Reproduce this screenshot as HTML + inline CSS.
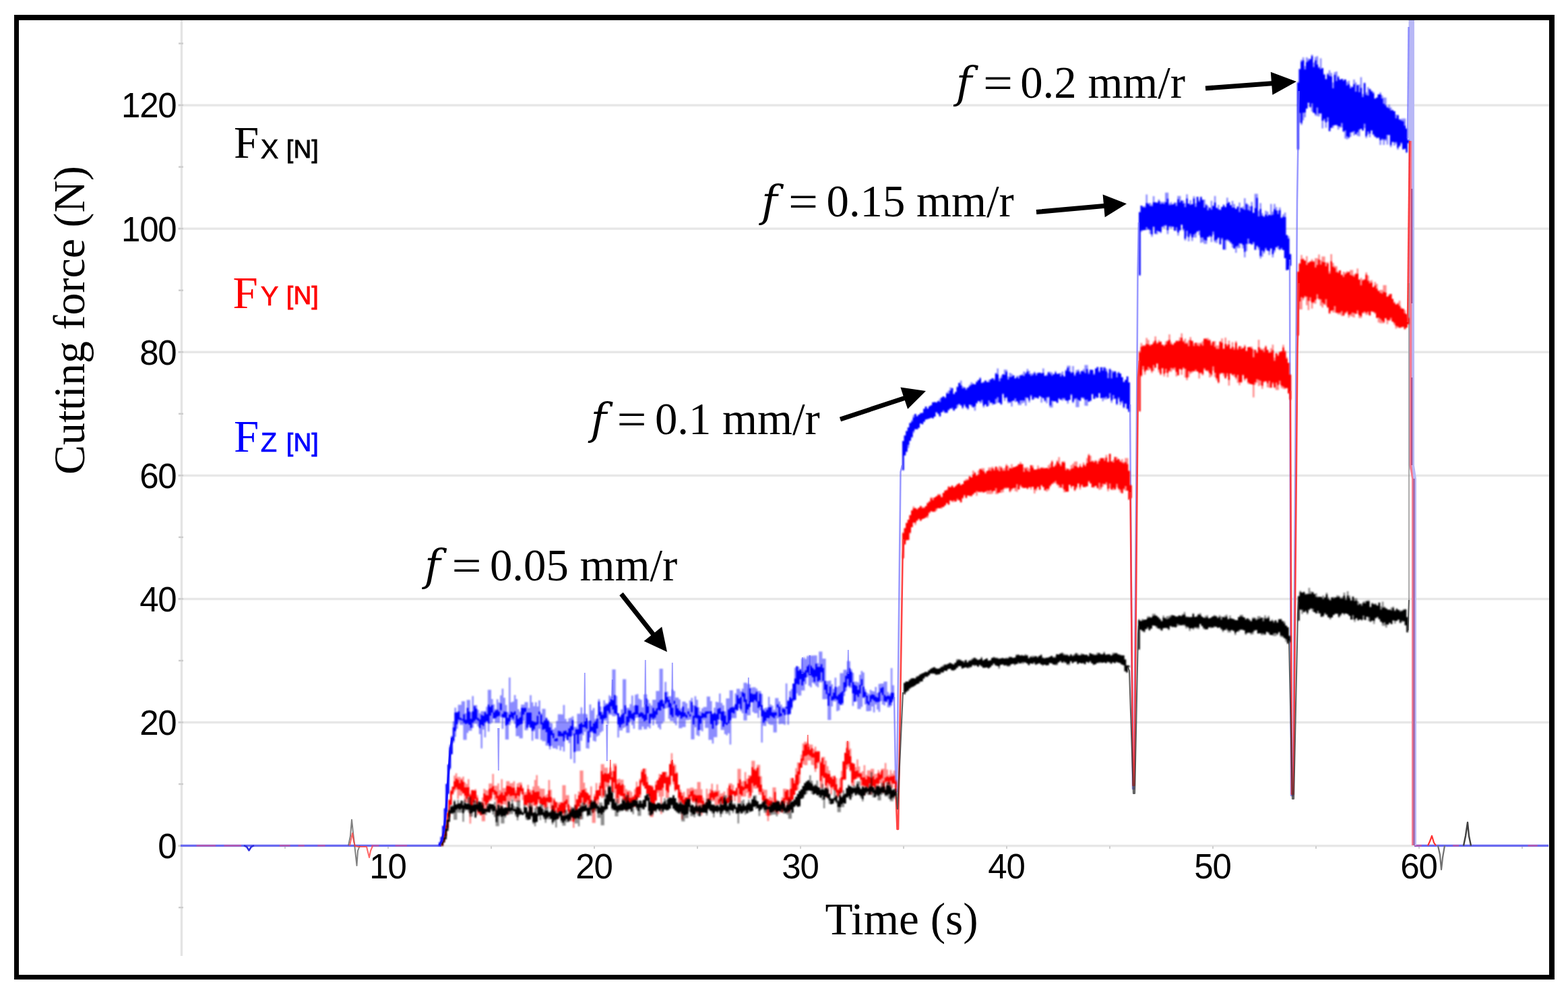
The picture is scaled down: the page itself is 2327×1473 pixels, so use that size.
<!DOCTYPE html>
<html><head><meta charset="utf-8"><title>Cutting force vs time</title><style>
html,body{margin:0;padding:0;background:#fff;width:2327px;height:1473px;overflow:hidden}
svg{display:block}
.tk{font-family:"Liberation Sans",Arial,sans-serif;font-size:51px;letter-spacing:-1.3px;fill:#000}
.ttl{font-family:"Liberation Serif","Times New Roman",serif;font-size:66px;fill:#000}
.tx{font-size:67.2px}
.lgF{font-family:"Liberation Serif","Times New Roman",serif;font-size:67px}
.lgS{font-family:"Liberation Sans",Arial,sans-serif;font-size:40px;stroke:currentColor;stroke-width:0.6px}
.lgN{font-family:"Liberation Sans",Arial,sans-serif;font-size:36.5px;stroke:currentColor;stroke-width:1px;letter-spacing:0.5px}
.an{font-family:"Liberation Serif","Times New Roman",serif;font-size:66.8px;fill:#000}
.af{font-family:"DejaVu Serif",serif;font-style:italic;font-size:64px;fill:#000}
</style></head>
<body><svg width="2327" height="1473" viewBox="0 0 2327 1473">
<defs><filter id="bl" x="-2%" y="-2%" width="104%" height="104%"><feGaussianBlur stdDeviation="0.8"/></filter></defs>
<rect width="2327" height="1473" fill="#fff"/>
<rect x="264" y="1253.0" width="2035" height="3.4" fill="#e7e7e7"/>
<rect x="264" y="1069.9" width="2035" height="3.4" fill="#e7e7e7"/>
<rect x="264" y="886.8" width="2035" height="3.4" fill="#e7e7e7"/>
<rect x="264" y="703.7" width="2035" height="3.4" fill="#e7e7e7"/>
<rect x="264" y="520.6" width="2035" height="3.4" fill="#e7e7e7"/>
<rect x="264" y="337.5" width="2035" height="3.4" fill="#e7e7e7"/>
<rect x="264" y="154.4" width="2035" height="3.4" fill="#e7e7e7"/>
<rect x="267.8" y="30" width="3.4" height="1388" fill="#e4e4e4"/>
<rect x="265" y="1345.0" width="7" height="2.4" fill="#cdcdcd"/>
<rect x="265" y="1253.4" width="7" height="2.4" fill="#cdcdcd"/>
<rect x="265" y="1161.9" width="7" height="2.4" fill="#cdcdcd"/>
<rect x="265" y="1070.3" width="7" height="2.4" fill="#cdcdcd"/>
<rect x="265" y="978.8" width="7" height="2.4" fill="#cdcdcd"/>
<rect x="265" y="887.2" width="7" height="2.4" fill="#cdcdcd"/>
<rect x="265" y="795.7" width="7" height="2.4" fill="#cdcdcd"/>
<rect x="265" y="704.1" width="7" height="2.4" fill="#cdcdcd"/>
<rect x="265" y="612.6" width="7" height="2.4" fill="#cdcdcd"/>
<rect x="265" y="521.0" width="7" height="2.4" fill="#cdcdcd"/>
<rect x="265" y="429.5" width="7" height="2.4" fill="#cdcdcd"/>
<rect x="265" y="337.9" width="7" height="2.4" fill="#cdcdcd"/>
<rect x="265" y="246.4" width="7" height="2.4" fill="#cdcdcd"/>
<rect x="265" y="154.8" width="7" height="2.4" fill="#cdcdcd"/>
<rect x="265" y="63.3" width="7" height="2.4" fill="#cdcdcd"/>
<rect x="422.0" y="1255" width="2" height="4" fill="#cfcfcf"/>
<rect x="575.0" y="1255" width="2" height="4" fill="#cfcfcf"/>
<rect x="728.0" y="1255" width="2" height="4" fill="#cfcfcf"/>
<rect x="881.0" y="1255" width="2" height="4" fill="#cfcfcf"/>
<rect x="1034.0" y="1255" width="2" height="4" fill="#cfcfcf"/>
<rect x="1187.0" y="1255" width="2" height="4" fill="#cfcfcf"/>
<rect x="1340.0" y="1255" width="2" height="4" fill="#cfcfcf"/>
<rect x="1493.0" y="1255" width="2" height="4" fill="#cfcfcf"/>
<rect x="1646.0" y="1255" width="2" height="4" fill="#cfcfcf"/>
<rect x="1799.0" y="1255" width="2" height="4" fill="#cfcfcf"/>
<rect x="1952.0" y="1255" width="2" height="4" fill="#cfcfcf"/>
<rect x="2105.0" y="1255" width="2" height="4" fill="#cfcfcf"/>
<rect x="2258.0" y="1255" width="2" height="4" fill="#cfcfcf"/>
<text x="261.3" y="1273.0" text-anchor="end" class="tk">0</text>
<text x="261.3" y="1089.9" text-anchor="end" class="tk">20</text>
<text x="261.3" y="906.8" text-anchor="end" class="tk">40</text>
<text x="261.3" y="723.7" text-anchor="end" class="tk">60</text>
<text x="261.3" y="540.6" text-anchor="end" class="tk">80</text>
<text x="261.3" y="357.5" text-anchor="end" class="tk">100</text>
<text x="261.3" y="174.4" text-anchor="end" class="tk">120</text>
<text x="575.4" y="1303" text-anchor="middle" class="tk">10</text>
<text x="881.4" y="1303" text-anchor="middle" class="tk">20</text>
<text x="1187.4" y="1303" text-anchor="middle" class="tk">30</text>
<text x="1493.4" y="1303" text-anchor="middle" class="tk">40</text>
<text x="1799.4" y="1303" text-anchor="middle" class="tk">50</text>
<text x="2105.4" y="1303" text-anchor="middle" class="tk">60</text>
<rect x="268" y="1252.8" width="387" height="3.3" fill="#6a6af0"/>
<path d="M291.5 1254.4H320.1M332.5 1254.4H358.0M414.9 1254.4H430.7M442.5 1254.4H451.8M471.3 1254.4H482.6M551.1 1254.4H562.3M586.6 1254.4H604.1" stroke="#e0508a" stroke-width="2.2" fill="none" opacity="0.7"/>
<rect x="2099" y="1252.8" width="199" height="3.3" fill="#6a6af0"/>
<path d="M2099.0 1254.4H2109.8M2156.1 1254.4H2165.0M2267.5 1254.4H2281.7" stroke="#e0508a" stroke-width="2.2" fill="none" opacity="0.7"/>
<path d="M362.0 1254.4L366.0 1256.0L369.5 1261.5L373.0 1256.0L377.0 1254.4" stroke="#3030e0" stroke-width="2.5" fill="none" stroke-linejoin="round" opacity="1"/>
<path d="M2090.5 30H2099V690L2102 710V1254H2097V710L2090.5 690Z" fill="#b8b8f6"/>
<path d="M2091.5 209H2095.3V690L2097.6 710V1254H2095V710L2091.5 690Z" fill="#f27c92"/>
<path d="M2095.3 280V450M2095.3 560V690M2098.5 710V1254" stroke="#8a2a70" stroke-width="1.8" opacity="0.75"/>
<path d="M2091 420V890" stroke="#9a9a9a" stroke-width="1.6"/>
<g filter="url(#bl)"><path d="M652.3 1249.6V1254.4M654.9 1241.5V1250.5M657.5 1225.0V1244.5M660.1 1199.2V1230.4M662.7 1162.8V1204.6M665.3 1134.1V1177.5M667.9 1104.6V1141.7M670.5 1091.6V1118.7M673.1 1070.0V1102.1M675.7 1049.8V1093.0M678.3 1055.7V1081.3M680.9 1045.6V1070.7M683.5 1045.6V1075.2M686.1 1040.3V1075.2M688.7 1040.3V1097.6M691.3 1057.9V1097.6M693.9 1038.2V1087.3M696.5 1038.2V1083.9M699.1 1056.5V1083.9M701.7 1032.6V1079.7M704.3 1046.1V1073.3M706.9 1046.1V1073.8M709.5 1052.9V1077.5M712.1 1058.0V1089.1M714.7 1055.0V1110.3M717.3 1055.0V1082.2M719.9 1054.8V1093.8M722.5 1048.4V1071.0M725.1 1023.3V1085.2M727.7 1023.3V1073.8M730.3 1036.9V1072.1M732.9 1044.7V1065.8M735.5 1052.0V1072.3M738.1 1037.3V1072.3M740.7 1042.0V1072.3M743.3 1031.5V1063.7M745.9 1021.5V1081.2M748.5 1035.0V1064.5M751.1 1045.7V1096.9M753.7 1056.5V1096.9M756.3 1005.0V1075.4M758.9 1041.8V1067.8M761.5 1040.7V1069.7M764.1 1030.9V1074.0M766.7 1037.0V1091.9M769.3 1052.0V1091.9M771.9 1055.7V1095.2M774.5 1045.2V1095.2M777.1 1045.2V1069.4M779.7 1041.4V1083.3M782.3 1041.4V1083.3M784.9 1050.3V1078.6M787.5 1031.2V1080.3M790.1 1041.8V1098.7M792.7 1047.5V1084.4M795.3 1041.8V1096.1M797.9 1047.9V1096.6M800.5 1038.9V1081.0M803.1 1058.1V1097.4M805.7 1051.6V1099.6M808.3 1051.6V1099.6M810.9 1064.2V1105.9M813.5 1067.4V1106.3M816.1 1071.5V1111.6M818.7 1072.8V1106.6M821.3 1082.0V1110.0M823.9 1079.6V1110.0M826.5 1069.6V1111.5M829.1 1059.6V1106.3M831.7 1059.6V1113.3M834.3 1059.7V1107.8M836.9 1045.7V1114.8M839.5 1066.6V1094.8M842.1 1071.0V1098.0M844.7 1065.5V1102.3M847.3 1064.5V1125.9M849.9 1062.5V1091.1M852.5 1078.2V1131.9M855.1 1078.2V1114.8M857.7 1058.7V1114.3M860.3 1058.7V1114.3M862.9 1049.2V1098.8M865.5 1058.8V1090.6M868.1 1058.8V1085.4M870.7 1059.5V1109.9M873.3 1069.2V1110.6M875.9 1045.1V1093.9M878.5 1053.7V1086.5M881.1 1050.2V1099.1M883.7 1066.6V1100.0M886.3 1060.5V1092.6M888.9 1037.0V1090.8M891.5 1048.0V1086.4M894.1 1056.2V1084.6M896.7 1038.8V1069.2M899.3 1043.3V1069.2M901.9 1043.3V1074.6M904.5 1031.4V1060.3M907.1 1033.2V1060.3M909.7 992.9V1062.4M912.3 992.9V1062.4M914.9 1032.3V1061.5M917.5 1057.9V1094.0M920.1 1062.1V1083.6M922.7 1052.3V1083.6M925.3 1007.5V1080.0M927.9 1007.5V1078.6M930.5 1050.0V1086.9M933.1 1050.0V1086.9M935.7 1044.4V1070.3M938.3 1031.7V1075.6M940.9 1046.7V1080.9M943.5 1030.4V1065.0M946.1 1029.6V1064.3M948.7 1036.5V1082.6M951.3 1038.1V1082.6M953.9 1049.3V1077.7M956.5 1030.1V1081.8M959.1 1030.1V1081.8M961.7 1038.0V1078.1M964.3 1043.2V1080.6M966.9 1046.6V1068.0M969.5 1038.0V1075.8M972.1 1038.0V1068.2M974.7 1024.9V1074.2M977.3 1024.9V1079.3M979.9 991.9V1082.0M982.5 991.9V1073.4M985.1 1039.2V1070.6M987.7 1011.6V1051.1M990.3 1025.9V1050.2M992.9 1033.1V1066.3M995.5 1032.8V1069.7M998.1 1022.7V1069.7M1000.7 1024.9V1072.4M1003.3 1034.7V1075.8M1005.9 1034.7V1064.5M1008.5 1037.5V1080.3M1011.1 1050.7V1080.3M1013.7 1040.8V1078.4M1016.3 1040.8V1078.4M1018.9 1043.2V1068.3M1021.5 1050.8V1068.3M1024.1 1038.9V1067.2M1026.7 1035.3V1096.7M1029.3 1046.0V1096.7M1031.9 1032.8V1078.7M1034.5 1038.1V1090.4M1037.1 1049.3V1091.9M1039.7 1055.3V1083.0M1042.3 1050.7V1084.7M1044.9 1048.7V1068.6M1047.5 1048.7V1079.8M1050.1 1033.3V1079.8M1052.7 1033.3V1097.5M1055.3 1040.1V1097.5M1057.9 1058.2V1103.0M1060.5 1049.8V1093.6M1063.1 1041.1V1093.6M1065.7 1041.7V1074.7M1068.3 1028.8V1067.5M1070.9 1042.8V1082.8M1073.5 1046.3V1082.8M1076.1 1055.2V1089.0M1078.7 1035.9V1090.8M1081.3 1035.9V1087.8M1083.9 1024.1V1104.6M1086.5 1024.1V1065.3M1089.1 1047.2V1065.3M1091.7 1028.4V1065.3M1094.3 1021.8V1054.6M1096.9 1021.8V1050.5M1099.5 1025.6V1055.0M1102.1 1021.5V1057.9M1104.7 1012.7V1068.7M1107.3 1012.7V1068.7M1109.9 1014.6V1061.1M1112.5 1015.1V1061.1M1115.1 1020.3V1041.7M1117.7 1019.5V1056.2M1120.3 1019.5V1057.9M1122.9 1021.4V1057.9M1125.5 1025.1V1064.7M1128.1 1025.1V1053.5M1130.7 1029.2V1101.4M1133.3 1051.3V1076.6M1135.9 1049.9V1076.9M1138.5 1049.6V1070.5M1141.1 1033.5V1073.9M1143.7 1044.9V1075.3M1146.3 1046.7V1075.3M1148.9 1053.1V1086.6M1151.5 1035.6V1086.6M1154.1 1035.6V1065.4M1156.7 1040.4V1074.2M1159.3 1045.3V1073.8M1161.9 1048.7V1073.8M1164.5 1048.7V1075.2M1167.1 1013.8V1060.3M1169.7 1038.5V1075.0M1172.3 1025.1V1060.0M1174.9 1022.0V1052.3M1177.5 1014.1V1040.9M1180.1 990.5V1038.4M1182.7 988.3V1028.5M1185.3 989.0V1031.7M1187.9 992.5V1031.7M1190.5 977.1V1024.2M1193.1 975.0V1024.2M1195.7 977.5V1014.8M1198.3 973.3V1004.4M1200.9 972.3V1017.3M1203.5 972.5V1019.6M1206.1 972.5V1012.4M1208.7 972.2V1014.6M1211.3 972.2V1017.5M1213.9 983.8V1019.6M1216.5 966.6V1012.3M1219.1 966.6V1012.3M1221.7 977.1V1037.3M1224.3 977.1V1037.3M1226.9 1010.3V1037.1M1229.5 1010.3V1067.9M1232.1 1009.4V1067.9M1234.7 1015.1V1047.9M1237.3 1022.0V1040.5M1239.9 1005.3V1040.5M1242.5 1019.3V1055.0M1245.1 1017.4V1053.7M1247.7 998.6V1045.5M1250.3 998.6V1046.1M1252.9 993.4V1032.6M1255.5 993.4V1024.9M1258.1 980.4V1017.6M1260.7 980.7V1020.2M1263.3 992.7V1020.2M1265.9 998.1V1047.3M1268.5 1011.3V1040.8M1271.1 1011.3V1040.5M1273.7 1012.3V1051.8M1276.3 1000.9V1051.8M1278.9 995.2V1048.6M1281.5 997.6V1035.6M1284.1 1022.3V1045.0M1286.7 1027.4V1055.1M1289.3 1029.2V1055.1M1291.9 1023.3V1054.6M1294.5 1025.1V1048.0M1297.1 1025.7V1056.7M1299.7 1018.9V1044.9M1302.3 1028.0V1052.4M1304.9 1014.4V1055.9M1307.5 1014.0V1039.9M1310.1 1014.0V1045.1M1312.7 1011.0V1046.5M1315.3 1011.0V1042.1M1317.9 1026.6V1049.3M1320.5 1029.4V1049.3M1323.1 991.0V1046.7M1325.7 1016.6V1039.9" stroke="#0000ff" stroke-width="2.6" opacity="0.45" fill="none"/>
<path d="M1340.3 654.2V697.4M1342.9 645.4V675.5M1345.5 639.4V670.8M1348.1 633.8V664.4M1350.7 627.6V654.0M1353.3 623.0V649.8M1355.9 615.8V642.2M1358.5 614.0V636.6M1361.1 617.6V636.7M1363.7 615.0V634.5M1366.3 612.5V628.5M1368.9 612.6V629.2M1371.5 606.4V625.5M1374.1 602.9V622.2M1376.7 606.2V621.6M1379.3 602.7V620.7M1381.9 601.2V619.8M1384.5 596.5V620.4M1387.1 596.0V617.9M1389.7 596.6V611.6M1392.3 594.7V614.5M1394.9 591.6V618.3M1397.5 589.3V611.5M1400.1 588.1V611.1M1402.7 589.1V613.0M1405.3 581.9V613.0M1407.9 579.6V609.0M1410.5 574.8V606.3M1413.1 575.7V607.0M1415.7 584.4V609.4M1418.3 581.6V606.7M1420.9 573.0V604.4M1423.5 567.9V600.6M1426.1 564.4V602.0M1428.7 573.1V606.4M1431.3 574.1V602.0M1433.9 575.8V605.4M1436.5 574.5V608.1M1439.1 570.8V600.8M1441.7 567.1V603.5M1444.3 568.5V604.7M1446.9 570.2V609.3M1449.5 565.6V598.9M1452.1 563.6V595.2M1454.7 559.7V598.4M1457.3 567.6V597.4M1459.9 565.9V604.6M1462.5 564.4V600.0M1465.1 566.2V603.0M1467.7 563.6V601.4M1470.3 562.5V598.1M1472.9 560.9V600.7M1475.5 561.4V599.6M1478.1 553.0V599.1M1480.7 546.4V597.2M1483.3 561.3V597.7M1485.9 557.4V600.5M1488.5 555.1V585.2M1491.1 548.2V594.7M1493.7 548.6V590.7M1496.3 558.6V598.2M1498.9 553.0V597.8M1501.5 554.5V603.0M1504.1 556.8V594.2M1506.7 560.7V596.6M1509.3 557.5V595.9M1511.9 557.5V601.1M1514.5 555.9V601.1M1517.1 554.7V598.2M1519.7 550.9V597.3M1522.3 552.4V601.8M1524.9 547.2V590.8M1527.5 550.3V597.0M1530.1 553.9V588.3M1532.7 553.8V593.3M1535.3 551.2V592.1M1537.9 553.8V590.3M1540.5 552.4V591.8M1543.1 552.4V587.7M1545.7 553.1V597.2M1548.3 546.6V590.6M1550.9 556.9V595.9M1553.5 555.2V598.2M1556.1 551.6V589.9M1558.7 551.4V604.5M1561.3 552.4V604.5M1563.9 555.0V595.4M1566.5 550.4V595.4M1569.1 554.3V597.6M1571.7 553.5V592.1M1574.3 553.3V593.5M1576.9 550.9V594.5M1579.5 558.4V592.8M1582.1 548.2V594.6M1584.7 542.6V598.7M1587.3 542.6V593.4M1589.9 551.8V586.5M1592.5 542.9V598.0M1595.1 555.3V593.2M1597.7 549.0V603.9M1600.3 548.0V603.9M1602.9 551.9V594.6M1605.5 550.0V590.5M1608.1 547.6V591.7M1610.7 541.5V601.8M1613.3 541.5V601.9M1615.9 551.8V595.9M1618.5 548.6V595.3M1621.1 548.3V585.3M1623.7 553.7V591.9M1626.3 546.6V591.0M1628.9 544.5V590.0M1631.5 550.1V583.5M1634.1 544.4V590.6M1636.7 544.7V595.2M1639.3 544.3V592.5M1641.9 547.1V592.5M1644.5 553.3V591.5M1647.1 546.6V589.8M1649.7 549.6V597.5M1652.3 550.2V592.3M1654.9 550.6V592.3M1657.5 553.4V600.9M1660.1 551.3V592.3M1662.7 554.1V600.7M1665.3 559.2V598.0M1667.9 566.1V605.7M1670.5 563.5V599.3M1673.1 558.5V606.4M1675.7 566.9V610.9M1691.3 314.2V408.6M1693.9 304.9V344.1M1696.5 306.1V341.6M1699.1 305.5V341.6M1701.7 288.5V341.3M1704.3 301.1V340.4M1706.9 300.9V346.9M1709.5 303.3V351.3M1712.1 290.9V337.2M1714.7 299.8V347.4M1717.3 300.3V347.4M1719.9 295.7V343.2M1722.5 299.0V346.1M1725.1 299.5V337.3M1727.7 299.3V338.8M1730.3 285.8V335.4M1732.9 285.8V347.2M1735.5 301.5V337.6M1738.1 299.8V339.1M1740.7 302.7V336.9M1743.3 300.1V342.5M1745.9 300.6V342.5M1748.5 290.8V349.6M1751.1 290.8V342.4M1753.7 297.3V333.8M1756.3 297.4V342.5M1758.9 301.6V356.7M1761.5 288.2V350.4M1764.1 302.0V357.9M1766.7 297.1V349.6M1769.3 302.8V357.4M1771.9 291.1V352.1M1774.5 301.5V352.5M1777.1 291.7V343.6M1779.7 296.6V348.8M1782.3 291.6V360.3M1784.9 296.1V359.2M1787.5 296.1V361.7M1790.1 302.8V361.7M1792.7 305.2V351.7M1795.3 308.1V351.7M1797.9 297.7V358.9M1800.5 304.7V347.9M1803.1 290.8V359.4M1805.7 308.2V360.5M1808.3 304.1V353.5M1810.9 310.8V362.7M1813.5 306.9V355.6M1816.1 303.1V370.4M1818.7 306.6V370.4M1821.3 293.2V357.3M1823.9 299.8V358.7M1826.5 304.3V361.3M1829.1 298.0V367.3M1831.7 302.7V369.1M1834.3 309.4V374.9M1836.9 305.7V367.9M1839.5 300.6V367.9M1842.1 308.2V361.8M1844.7 306.6V368.4M1847.3 294.0V381.7M1849.9 301.3V372.4M1852.5 303.6V361.9M1855.1 306.0V361.2M1857.7 299.6V363.3M1860.3 315.7V362.0M1862.9 287.5V370.6M1865.5 287.5V366.3M1868.1 312.8V370.5M1870.7 301.3V383.6M1873.3 316.3V380.7M1875.9 320.5V376.1M1878.5 312.4V370.2M1881.1 314.1V371.9M1883.7 318.6V378.3M1886.3 302.4V368.8M1888.9 313.9V381.7M1891.5 302.5V374.3M1894.1 307.2V366.7M1896.7 312.4V369.5M1899.3 307.8V371.3M1901.9 322.6V370.0M1904.5 318.1V371.0M1907.1 315.3V383.1M1909.7 348.3V400.8M1912.3 350.3V399.9M1914.9 376.5V394.4M1926.3 122.4V221.8M1928.9 102.5V182.0M1931.5 88.8V185.2M1934.1 85.0V178.4M1936.7 98.1V173.9M1939.3 84.9V161.5M1941.9 86.9V152.9M1944.5 86.9V159.8M1947.1 80.9V165.6M1949.7 92.7V167.3M1952.3 84.5V171.5M1954.9 83.2V172.2M1957.5 99.1V172.8M1960.1 86.6V168.3M1962.7 101.0V190.5M1965.3 109.5V179.3M1967.9 117.6V189.6M1970.5 108.5V180.3M1973.1 104.3V194.6M1975.7 108.3V189.7M1978.3 122.2V189.7M1980.9 106.9V185.6M1983.5 105.9V186.5M1986.1 112.4V192.2M1988.7 117.9V189.5M1991.3 116.9V189.1M1993.9 117.7V195.8M1996.5 117.7V205.6M1999.1 121.5V206.8M2001.7 119.7V205.5M2004.3 127.5V203.0M2006.9 128.7V196.6M2009.5 117.9V200.9M2012.1 122.3V199.3M2014.7 125.8V201.4M2017.3 125.6V202.3M2019.9 114.5V191.0M2022.5 139.4V193.9M2025.1 122.4V190.1M2027.7 137.1V204.7M2030.3 129.3V199.4M2032.9 131.8V203.6M2035.5 134.2V193.6M2038.1 136.2V200.5M2040.7 146.3V203.4M2043.3 144.7V205.6M2045.9 139.9V205.0M2048.5 137.1V214.9M2051.1 141.4V208.1M2053.7 144.7V215.1M2056.3 144.8V209.1M2058.9 158.6V214.4M2061.5 155.3V200.2M2064.1 159.2V218.3M2066.7 163.4V210.9M2069.3 164.9V215.9M2071.9 170.0V213.8M2074.5 170.1V222.1M2077.1 176.8V218.1M2079.7 176.3V213.6M2082.3 175.8V221.7M2084.9 175.8V220.9M2087.5 190.6V226.3M2090.1 207.7V212.3" stroke="#0000ff" stroke-width="2.6" opacity="0.45" fill="none"/>
<path d="M652.3 1249.6V1254.4M654.9 1241.5V1250.5M657.5 1225.0V1244.5M660.1 1199.2V1230.4M662.7 1162.8V1204.6M665.3 1134.1V1177.5M667.9 1108.4V1139.5M670.5 1093.3V1118.7M673.1 1079.0V1098.9M675.7 1057.0V1084.4M678.3 1057.1V1074.2M680.9 1055.2V1067.2M683.5 1064.8V1068.1M686.1 1066.4V1068.8M688.7 1059.5V1072.2M691.3 1067.4V1074.1M693.9 1050.1V1073.1M696.5 1055.4V1074.9M699.1 1066.3V1079.7M701.7 1055.2V1072.0M704.3 1047.4V1069.5M706.9 1051.2V1066.9M709.5 1065.1V1069.3M712.1 1067.2V1080.0M714.7 1060.4V1075.0M717.3 1061.7V1076.8M719.9 1056.6V1071.7M722.5 1059.3V1069.8M725.1 1045.3V1073.0M727.7 1048.4V1061.6M730.3 1045.9V1056.9M732.9 1056.7V1065.7M735.5 1054.2V1065.2M738.1 1052.7V1063.0M740.7 1055.4V1061.7M743.3 1043.5V1053.5M745.9 1058.9V1063.9M748.5 1055.6V1064.5M751.1 1056.1V1076.3M753.7 1064.7V1074.4M756.3 1059.9V1070.5M758.9 1055.8V1063.9M761.5 1057.3V1066.5M764.1 1055.2V1060.4M766.7 1060.8V1079.7M769.3 1066.3V1076.7M771.9 1063.9V1074.8M774.5 1050.0V1073.8M777.1 1050.2V1060.1M779.7 1050.0V1056.1M782.3 1057.0V1079.7M784.9 1057.0V1074.7M787.5 1056.9V1078.9M790.1 1069.5V1084.2M792.7 1070.8V1081.5M795.3 1071.4V1076.3M797.9 1061.8V1074.6M800.5 1055.4V1059.7M803.1 1060.2V1074.6M805.7 1071.7V1082.5M808.3 1068.8V1081.6M810.9 1065.4V1085.9M813.5 1069.4V1102.4M816.1 1079.0V1106.8M818.7 1083.5V1090.5M821.3 1087.7V1095.1M823.9 1095.9V1099.5M826.5 1095.0V1099.4M829.1 1084.1V1092.2M831.7 1085.0V1092.3M834.3 1087.6V1092.2M836.9 1084.4V1099.6M839.5 1083.7V1089.8M842.1 1086.8V1097.7M844.7 1080.4V1092.5M847.3 1077.0V1092.4M849.9 1068.2V1083.1M852.5 1088.2V1115.6M855.1 1081.8V1089.4M857.7 1081.7V1103.5M860.3 1074.1V1089.3M862.9 1072.0V1087.8M865.5 1074.9V1078.4M868.1 1069.8V1079.1M870.7 1065.1V1081.3M873.3 1084.4V1101.3M875.9 1068.9V1085.7M878.5 1078.1V1084.2M881.1 1073.1V1087.2M883.7 1070.2V1088.3M886.3 1065.9V1080.7M888.9 1040.8V1061.5M891.5 1055.9V1066.8M894.1 1060.2V1073.4M896.7 1048.2V1066.1M899.3 1046.5V1065.0M901.9 1044.9V1054.5M904.5 1041.4V1057.8M907.1 1037.0V1047.8M909.7 1038.6V1052.5M912.3 1030.9V1058.3M914.9 1046.3V1059.6M917.5 1058.0V1074.5M920.1 1063.9V1079.1M922.7 1060.2V1074.6M925.3 1058.0V1073.0M927.9 1046.3V1058.9M930.5 1062.8V1076.2M933.1 1053.4V1071.4M935.7 1054.2V1065.4M938.3 1058.4V1066.7M940.9 1056.8V1069.2M943.5 1046.0V1060.1M946.1 1046.4V1059.8M948.7 1058.2V1063.9M951.3 1056.4V1062.9M953.9 1057.6V1065.8M956.5 1060.0V1069.9M959.1 1036.1V1067.9M961.7 1047.7V1058.0M964.3 1058.7V1072.9M966.9 1058.6V1064.3M969.5 1050.2V1066.5M972.1 1054.4V1064.6M974.7 1050.8V1060.2M977.3 1041.7V1053.2M979.9 1038.7V1053.9M982.5 1037.7V1047.9M985.1 1043.7V1051.1M987.7 1026.8V1043.7M990.3 1033.9V1041.6M992.9 1038.0V1049.2M995.5 1042.9V1060.5M998.1 1049.9V1063.8M1000.7 1039.4V1044.3M1003.3 1045.4V1061.1M1005.9 1050.7V1062.8M1008.5 1054.1V1061.0M1011.1 1056.1V1066.1M1013.7 1048.3V1063.4M1016.3 1056.9V1062.8M1018.9 1060.3V1064.9M1021.5 1055.3V1059.6M1024.1 1059.4V1063.0M1026.7 1041.3V1056.4M1029.3 1061.7V1074.5M1031.9 1047.3V1064.8M1034.5 1049.3V1065.5M1037.1 1060.8V1083.1M1039.7 1062.1V1073.3M1042.3 1057.5V1065.3M1044.9 1058.2V1064.2M1047.5 1055.4V1064.8M1050.1 1055.3V1059.0M1052.7 1055.5V1058.1M1055.3 1055.1V1074.1M1057.9 1059.3V1081.1M1060.5 1057.6V1069.0M1063.1 1059.3V1076.1M1065.7 1051.5V1067.2M1068.3 1050.3V1058.8M1070.9 1055.8V1069.3M1073.5 1055.1V1077.9M1076.1 1061.5V1073.8M1078.7 1072.1V1075.3M1081.3 1052.6V1073.0M1083.9 1050.1V1068.5M1086.5 1049.1V1057.1M1089.1 1049.8V1058.3M1091.7 1044.5V1052.6M1094.3 1031.2V1053.4M1096.9 1036.1V1044.3M1099.5 1034.0V1052.0M1102.1 1026.8V1033.4M1104.7 1028.4V1041.3M1107.3 1037.4V1058.1M1109.9 1044.3V1052.6M1112.5 1021.1V1048.7M1115.1 1028.6V1041.5M1117.7 1029.7V1041.4M1120.3 1029.6V1038.4M1122.9 1026.2V1040.8M1125.5 1040.3V1050.0M1128.1 1028.8V1048.1M1130.7 1046.0V1062.7M1133.3 1053.7V1072.0M1135.9 1056.0V1069.0M1138.5 1053.0V1064.9M1141.1 1049.2V1065.3M1143.7 1048.9V1061.8M1146.3 1056.8V1063.4M1148.9 1056.7V1065.3M1151.5 1056.4V1061.4M1154.1 1044.8V1049.4M1156.7 1048.4V1063.3M1159.3 1058.0V1062.2M1161.9 1051.2V1057.1M1164.5 1052.1V1060.8M1167.1 1048.5V1050.9M1169.7 1040.1V1060.1M1172.3 1034.3V1058.8M1174.9 1036.2V1049.3M1177.5 1014.1V1038.6M1180.1 1006.5V1038.2M1182.7 988.3V1014.5M1185.3 994.9V1015.5M1187.9 992.9V1007.5M1190.5 996.0V1016.7M1193.1 997.7V1010.8M1195.7 994.3V1004.9M1198.3 988.6V997.5M1200.9 986.0V1001.2M1203.5 987.8V1001.8M1206.1 990.7V1004.5M1208.7 993.2V1011.6M1211.3 984.6V1003.7M1213.9 989.2V1010.8M1216.5 989.3V1008.9M1219.1 985.2V997.3M1221.7 990.8V1010.0M1224.3 1010.0V1023.2M1226.9 1015.3V1029.5M1229.5 1028.6V1047.0M1232.1 1018.2V1032.5M1234.7 1032.7V1039.0M1237.3 1027.6V1037.7M1239.9 1018.8V1036.4M1242.5 1032.4V1038.2M1245.1 1030.1V1043.5M1247.7 1027.6V1045.5M1250.3 1025.4V1043.0M1252.9 1012.1V1026.5M1255.5 1002.5V1019.5M1258.1 997.5V1007.0M1260.7 991.0V1017.4M1263.3 996.5V1012.5M1265.9 1011.9V1028.6M1268.5 1015.9V1040.8M1271.1 1017.4V1030.5M1273.7 1023.2V1033.7M1276.3 1016.0V1028.8M1278.9 1007.4V1017.0M1281.5 1018.5V1034.5M1284.1 1026.3V1033.4M1286.7 1032.0V1043.6M1289.3 1040.4V1045.8M1291.9 1031.5V1041.2M1294.5 1029.9V1037.0M1297.1 1030.8V1039.3M1299.7 1033.4V1041.3M1302.3 1034.7V1041.5M1304.9 1026.8V1040.7M1307.5 1020.8V1027.4M1310.1 1019.3V1031.0M1312.7 1030.8V1040.3M1315.3 1033.0V1040.5M1317.9 1031.9V1037.6M1320.5 1032.7V1046.1M1323.1 1027.5V1042.0M1325.7 1027.7V1037.1M1340.3 654.2V697.4M1342.9 646.2V675.5M1345.5 639.4V669.8M1348.1 634.2V659.7M1350.7 627.6V653.8M1353.3 625.6V647.9M1355.9 619.4V639.5M1358.5 614.0V636.6M1361.1 617.6V636.7M1363.7 615.0V634.5M1366.3 613.2V628.0M1368.9 612.6V629.2M1371.5 606.4V625.5M1374.1 603.0V622.2M1376.7 606.2V621.6M1379.3 602.7V620.7M1381.9 601.2V619.4M1384.5 597.0V620.4M1387.1 596.8V617.9M1389.7 597.2V611.6M1392.3 595.1V613.4M1394.9 596.3V617.3M1397.5 590.1V611.5M1400.1 588.1V608.7M1402.7 590.6V611.5M1405.3 584.0V611.7M1407.9 583.9V607.8M1410.5 579.2V606.0M1413.1 575.8V604.8M1415.7 584.4V608.7M1418.3 581.6V606.1M1420.9 574.4V600.4M1423.5 568.1V599.1M1426.1 571.5V600.8M1428.7 576.2V604.5M1431.3 575.5V599.8M1433.9 578.2V603.4M1436.5 575.2V605.8M1439.1 573.1V600.0M1441.7 570.7V600.8M1444.3 569.9V603.7M1446.9 570.2V602.6M1449.5 566.9V597.4M1452.1 564.0V594.8M1454.7 561.5V595.6M1457.3 568.3V593.3M1459.9 567.4V601.8M1462.5 564.4V599.7M1465.1 566.9V603.0M1467.7 567.0V594.1M1470.3 563.0V596.8M1472.9 561.3V597.8M1475.5 563.9V599.6M1478.1 554.5V591.8M1480.7 555.5V589.3M1483.3 565.4V597.3M1485.9 560.9V599.4M1488.5 555.5V583.7M1491.1 556.1V590.1M1493.7 551.5V589.1M1496.3 562.9V595.6M1498.9 559.4V596.5M1501.5 559.1V595.1M1504.1 557.0V594.2M1506.7 561.6V591.0M1509.3 559.7V595.0M1511.9 561.6V597.9M1514.5 557.3V594.0M1517.1 557.1V593.7M1519.7 557.7V593.9M1522.3 554.6V589.5M1524.9 551.3V589.7M1527.5 555.1V593.8M1530.1 557.6V585.9M1532.7 556.5V592.5M1535.3 553.5V589.1M1537.9 557.0V589.8M1540.5 553.8V590.5M1543.1 553.0V587.5M1545.7 554.3V589.0M1548.3 553.2V590.4M1550.9 557.8V594.1M1553.5 557.4V589.5M1556.1 552.6V588.6M1558.7 554.8V601.4M1561.3 557.3V594.5M1563.9 555.2V595.1M1566.5 552.7V595.3M1569.1 555.0V597.6M1571.7 554.4V590.7M1574.3 558.6V592.7M1576.9 556.1V590.7M1579.5 558.6V590.4M1582.1 550.2V594.0M1584.7 545.4V594.6M1587.3 551.1V592.9M1589.9 553.6V584.8M1592.5 552.2V596.0M1595.1 557.4V591.1M1597.7 552.7V590.8M1600.3 550.7V593.1M1602.9 555.1V594.6M1605.5 550.6V589.6M1608.1 551.2V589.7M1610.7 553.4V593.1M1613.3 547.6V592.8M1615.9 554.7V595.8M1618.5 548.6V594.0M1621.1 548.9V584.3M1623.7 555.9V591.5M1626.3 546.8V588.2M1628.9 544.5V589.9M1631.5 552.2V583.0M1634.1 545.1V590.6M1636.7 549.7V590.1M1639.3 545.8V589.8M1641.9 550.7V588.4M1644.5 560.9V590.9M1647.1 547.9V583.3M1649.7 561.2V593.9M1652.3 552.6V586.0M1654.9 551.1V591.0M1657.5 559.8V598.9M1660.1 553.1V589.5M1662.7 554.3V595.9M1665.3 559.7V594.8M1667.9 567.0V603.9M1670.5 563.5V598.4M1673.1 558.5V606.4M1675.7 567.4V610.9M1691.3 315.1V408.6M1693.9 304.9V341.8M1696.5 307.5V341.4M1699.1 307.9V341.1M1701.7 301.2V336.9M1704.3 302.9V339.7M1706.9 305.6V341.3M1709.5 306.0V347.8M1712.1 299.9V336.1M1714.7 300.4V346.2M1717.3 301.1V342.1M1719.9 298.3V343.2M1722.5 302.6V344.1M1725.1 301.9V336.0M1727.7 302.5V334.4M1730.3 299.9V333.8M1732.9 294.7V341.5M1735.5 304.2V335.5M1738.1 303.8V335.8M1740.7 303.2V335.9M1743.3 301.7V342.0M1745.9 305.5V337.3M1748.5 295.6V345.0M1751.1 300.3V341.2M1753.7 297.8V333.0M1756.3 301.8V339.5M1758.9 307.3V354.0M1761.5 294.5V342.3M1764.1 302.1V351.7M1766.7 304.1V346.5M1769.3 303.1V352.3M1771.9 294.4V347.7M1774.5 306.7V345.7M1777.1 292.1V343.3M1779.7 299.2V341.9M1782.3 292.4V352.3M1784.9 296.8V352.2M1787.5 308.1V355.7M1790.1 304.6V356.8M1792.7 312.1V351.6M1795.3 308.3V349.6M1797.9 311.0V350.9M1800.5 305.7V343.6M1803.1 300.4V356.7M1805.7 308.5V355.2M1808.3 310.6V352.2M1810.9 311.6V362.2M1813.5 306.9V352.9M1816.1 304.7V369.9M1818.7 307.6V356.2M1821.3 302.1V355.1M1823.9 300.3V356.6M1826.5 304.6V359.3M1829.1 308.0V361.9M1831.7 308.0V368.4M1834.3 310.1V365.5M1836.9 307.1V364.4M1839.5 314.6V361.0M1842.1 308.2V361.0M1844.7 310.1V363.3M1847.3 311.3V373.6M1849.9 302.9V361.7M1852.5 311.5V354.1M1855.1 312.8V361.2M1857.7 305.8V362.2M1860.3 315.7V359.1M1862.9 308.7V370.6M1865.5 293.4V364.2M1868.1 321.0V366.8M1870.7 310.0V379.7M1873.3 320.0V371.4M1875.9 321.7V373.0M1878.5 318.3V367.7M1881.1 320.5V371.5M1883.7 318.8V372.6M1886.3 319.4V368.5M1888.9 318.6V377.1M1891.5 310.2V370.9M1894.1 312.3V366.7M1896.7 317.5V365.1M1899.3 311.7V369.8M1901.9 323.2V367.7M1904.5 321.5V371.0M1907.1 322.1V383.1M1909.7 349.0V400.8M1912.3 354.0V399.9M1914.9 377.3V393.9M1926.3 122.4V221.8M1928.9 102.5V167.5M1931.5 91.6V182.4M1934.1 89.4V167.3M1936.7 103.0V166.7M1939.3 92.2V160.8M1941.9 90.3V152.0M1944.5 88.3V158.4M1947.1 83.3V153.6M1949.7 99.6V167.2M1952.3 89.6V169.0M1954.9 95.8V159.5M1957.5 100.7V168.3M1960.1 102.7V168.3M1962.7 101.0V179.1M1965.3 110.9V176.2M1967.9 117.6V181.5M1970.5 110.5V174.1M1973.1 112.4V194.6M1975.7 113.6V189.6M1978.3 131.1V186.3M1980.9 110.9V185.5M1983.5 120.2V185.1M1986.1 114.6V187.0M1988.7 118.3V187.6M1991.3 116.9V182.5M1993.9 120.0V194.7M1996.5 118.0V193.4M1999.1 126.8V202.3M2001.7 124.8V203.4M2004.3 131.1V196.4M2006.9 129.3V195.4M2009.5 125.0V194.5M2012.1 136.0V198.9M2014.7 126.5V196.1M2017.3 136.7V192.2M2019.9 130.5V191.0M2022.5 143.9V193.6M2025.1 123.4V183.6M2027.7 140.7V202.1M2030.3 141.8V194.9M2032.9 132.3V198.0M2035.5 135.8V193.6M2038.1 138.5V198.9M2040.7 146.3V202.3M2043.3 144.7V204.1M2045.9 139.9V203.7M2048.5 139.9V207.7M2051.1 146.3V205.7M2053.7 153.9V206.8M2056.3 156.2V206.6M2058.9 159.5V200.1M2061.5 160.7V200.2M2064.1 163.7V215.3M2066.7 163.4V210.2M2069.3 164.9V211.0M2071.9 175.4V210.8M2074.5 171.2V219.3M2077.1 177.6V216.0M2079.7 179.0V211.5M2082.3 180.1V221.4M2084.9 186.4V220.4M2087.5 191.1V226.3M2090.1 207.7V212.3" stroke="#0000ff" stroke-width="2.6" fill="none"/></g>
<path d="M1327.0 1034.0L1329.5 1174.0L1331.0 1174.0L1336.5 700.0L1339.0 690.0" stroke="#7070ff" stroke-width="2.6" fill="none" stroke-linejoin="round" opacity="0.7"/>
<path d="M1677.0 600.0L1681.0 1170.0L1683.0 1170.0L1688.5 400.0L1690.0 330.0" stroke="#7070ff" stroke-width="2.6" fill="none" stroke-linejoin="round" opacity="0.7"/>
<path d="M1914.0 385.0L1916.0 1180.0L1919.0 1180.0L1925.0 300.0L1927.7 135.0" stroke="#7070ff" stroke-width="2.6" fill="none" stroke-linejoin="round" opacity="0.7"/>
<path d="M2089.0 205.0L2090.5 40.0" stroke="#7070ff" stroke-width="2.6" fill="none" stroke-linejoin="round" opacity="0.7"/>
<g filter="url(#bl)"><path d="M656.3 1247.3V1254.4M658.9 1237.4V1248.6M661.5 1223.3V1240.3M664.1 1205.3V1228.4M666.7 1186.4V1213.0M669.3 1171.4V1194.1M671.9 1166.8V1178.9M674.5 1150.4V1174.6M677.1 1147.1V1171.4M679.7 1152.6V1185.2M682.3 1152.6V1180.2M684.9 1154.5V1180.2M687.5 1152.1V1176.9M690.1 1160.6V1190.1M692.7 1162.9V1190.9M695.3 1155.8V1190.9M697.9 1176.9V1221.8M700.5 1171.7V1197.0M703.1 1171.7V1201.0M705.7 1170.5V1191.7M708.3 1179.4V1209.4M710.9 1191.7V1207.3M713.5 1189.3V1209.9M716.1 1182.9V1218.2M718.7 1170.0V1218.2M721.3 1172.0V1203.7M723.9 1172.6V1203.7M726.5 1162.3V1189.0M729.1 1162.3V1187.6M731.7 1147.9V1178.8M734.3 1165.5V1186.7M736.9 1165.5V1208.9M739.5 1162.0V1196.6M742.1 1172.2V1202.5M744.7 1155.7V1202.5M747.3 1168.9V1192.9M749.9 1168.9V1193.4M752.5 1158.8V1209.2M755.1 1158.8V1206.0M757.7 1161.9V1188.5M760.3 1161.5V1184.8M762.9 1158.7V1188.6M765.5 1172.6V1189.6M768.1 1162.3V1189.5M770.7 1160.8V1189.5M773.3 1160.8V1177.8M775.9 1168.0V1186.8M778.5 1175.3V1195.3M781.1 1174.7V1195.3M783.7 1164.3V1198.1M786.3 1170.9V1207.6M788.9 1172.5V1207.6M791.5 1166.7V1194.7M794.1 1156.9V1196.2M796.7 1149.8V1200.0M799.3 1166.1V1190.3M801.9 1169.4V1193.1M804.5 1170.1V1194.4M807.1 1170.1V1198.2M809.7 1179.8V1200.9M812.3 1178.0V1198.6M814.9 1156.9V1190.7M817.5 1171.5V1200.2M820.1 1183.8V1210.7M822.7 1183.8V1210.7M825.3 1188.7V1205.3M827.9 1190.6V1214.4M830.5 1190.0V1208.6M833.1 1189.7V1208.2M835.7 1164.8V1212.1M838.3 1164.8V1212.3M840.9 1179.6V1197.6M843.5 1179.6V1215.8M846.1 1195.2V1217.7M848.7 1198.0V1218.4M851.3 1205.1V1228.1M853.9 1177.9V1215.7M856.5 1184.9V1205.0M859.1 1174.1V1196.5M861.7 1142.9V1215.2M864.3 1142.9V1191.0M866.9 1160.9V1202.3M869.5 1169.2V1193.4M872.1 1175.4V1199.3M874.7 1179.0V1198.0M877.3 1166.6V1202.3M879.9 1190.7V1220.7M882.5 1177.9V1220.7M885.1 1161.4V1195.7M887.7 1172.0V1193.1M890.3 1161.2V1181.1M892.9 1133.6V1183.4M895.5 1133.6V1183.4M898.1 1138.8V1181.7M900.7 1138.8V1167.3M903.3 1147.6V1175.4M905.9 1138.4V1157.5M908.5 1143.5V1175.9M911.1 1132.8V1175.9M913.7 1132.8V1189.7M916.3 1156.1V1192.2M918.9 1154.9V1192.2M921.5 1156.6V1180.6M924.1 1156.6V1189.4M926.7 1165.1V1189.2M929.3 1170.5V1202.2M931.9 1172.4V1199.7M934.5 1172.5V1198.9M937.1 1174.4V1198.9M939.7 1180.4V1196.6M942.3 1170.6V1196.6M944.9 1159.4V1186.9M947.5 1166.1V1183.6M950.1 1155.1V1182.9M952.7 1141.8V1163.8M955.3 1140.0V1166.7M957.9 1140.0V1170.0M960.5 1152.1V1177.8M963.1 1164.1V1184.7M965.7 1165.1V1211.9M968.3 1165.1V1211.9M970.9 1171.7V1203.1M973.5 1158.9V1188.6M976.1 1157.3V1176.1M978.7 1147.9V1181.7M981.3 1149.1V1207.5M983.9 1145.1V1181.6M986.5 1144.9V1162.2M989.1 1145.0V1183.8M991.7 1150.2V1183.8M994.3 1133.6V1166.8M996.9 1117.2V1150.4M999.5 1132.2V1163.4M1002.1 1134.6V1174.3M1004.7 1145.3V1171.8M1007.3 1164.1V1191.4M1009.9 1171.3V1191.4M1012.5 1176.1V1215.6M1015.1 1174.6V1199.2M1017.7 1182.6V1201.2M1020.3 1169.7V1201.2M1022.9 1169.7V1193.0M1025.5 1168.3V1186.4M1028.1 1168.3V1190.7M1030.7 1170.5V1190.7M1033.3 1170.5V1204.9M1035.9 1159.9V1206.5M1038.5 1159.9V1206.5M1041.1 1170.8V1209.4M1043.7 1183.5V1203.2M1046.3 1191.7V1203.2M1048.9 1170.1V1200.9M1051.5 1177.6V1193.4M1054.1 1170.5V1188.2M1056.7 1162.5V1188.4M1059.3 1173.1V1188.4M1061.9 1172.3V1196.1M1064.5 1163.4V1194.4M1067.1 1172.5V1194.4M1069.7 1177.2V1194.2M1072.3 1176.4V1200.2M1074.9 1173.9V1200.2M1077.5 1183.4V1194.0M1080.1 1169.1V1191.4M1082.7 1162.0V1191.4M1085.3 1162.0V1189.6M1087.9 1164.2V1178.6M1090.5 1173.3V1188.5M1093.1 1167.9V1181.3M1095.7 1140.4V1191.3M1098.3 1140.4V1191.3M1100.9 1159.5V1181.8M1103.5 1158.3V1181.8M1106.1 1145.2V1181.4M1108.7 1155.3V1176.2M1111.3 1149.9V1184.2M1113.9 1149.9V1184.0M1116.5 1128.5V1175.9M1119.1 1128.5V1169.6M1121.7 1139.9V1170.1M1124.3 1134.5V1170.1M1126.9 1134.5V1179.1M1129.5 1151.6V1179.1M1132.1 1169.9V1190.5M1134.7 1171.6V1193.9M1137.3 1171.6V1209.8M1139.9 1184.2V1218.0M1142.5 1181.8V1210.2M1145.1 1183.2V1204.3M1147.7 1168.1V1204.0M1150.3 1168.1V1204.2M1152.9 1185.7V1207.5M1155.5 1189.1V1207.5M1158.1 1190.2V1201.7M1160.7 1182.8V1205.7M1163.3 1169.9V1202.2M1165.9 1169.9V1190.9M1168.5 1171.4V1205.5M1171.1 1171.4V1205.5M1173.7 1154.2V1189.3M1176.3 1153.9V1187.1M1178.9 1157.5V1178.9M1181.5 1139.6V1172.4M1184.1 1130.9V1171.7M1186.7 1130.9V1162.0M1189.3 1119.6V1138.7M1191.9 1102.7V1133.4M1194.5 1100.3V1134.9M1197.1 1100.6V1134.9M1199.7 1103.1V1128.1M1202.3 1104.6V1128.1M1204.9 1104.6V1134.5M1207.5 1111.0V1135.3M1210.1 1107.4V1145.0M1212.7 1113.8V1139.7M1215.3 1113.8V1132.2M1217.9 1129.0V1169.6M1220.5 1122.7V1169.6M1223.1 1122.7V1153.8M1225.7 1128.3V1182.8M1228.3 1136.6V1182.4M1230.9 1142.9V1166.0M1233.5 1151.7V1178.7M1236.1 1151.0V1170.7M1238.7 1150.3V1172.4M1241.3 1153.9V1183.5M1243.9 1170.1V1183.5M1246.5 1154.7V1182.0M1249.1 1143.4V1176.5M1251.7 1129.5V1157.3M1254.3 1116.8V1157.3M1256.9 1099.7V1141.0M1259.5 1099.7V1137.4M1262.1 1110.5V1144.6M1264.7 1131.7V1166.1M1267.3 1132.3V1166.1M1269.9 1138.1V1155.6M1272.5 1126.5V1155.0M1275.1 1136.9V1154.1M1277.7 1145.7V1165.8M1280.3 1143.9V1167.5M1282.9 1134.9V1179.2M1285.5 1149.6V1170.3M1288.1 1142.8V1173.1M1290.7 1142.8V1178.2M1293.3 1140.5V1178.2M1295.9 1140.5V1167.3M1298.5 1148.0V1176.3M1301.1 1147.7V1176.3M1303.7 1142.2V1175.3M1306.3 1145.3V1161.9M1308.9 1140.2V1174.9M1311.5 1140.2V1175.8M1314.1 1131.7V1161.6M1316.7 1141.4V1174.6M1319.3 1149.4V1169.7M1321.9 1142.3V1169.0M1324.5 1147.4V1169.0M1327.1 1143.0V1162.9M1329.7 1156.8V1172.9" stroke="#ff0000" stroke-width="2.6" opacity="0.45" fill="none"/>
<path d="M1340.3 789.6V828.3M1342.9 783.4V807.6M1345.5 775.7V801.7M1348.1 771.1V800.9M1350.7 764.2V791.4M1353.3 757.2V781.9M1355.9 751.1V775.3M1358.5 753.8V778.7M1361.1 755.5V772.2M1363.7 753.3V769.7M1366.3 750.4V772.5M1368.9 751.8V769.9M1371.5 752.4V769.0M1374.1 750.2V767.6M1376.7 745.3V768.2M1379.3 743.3V761.7M1381.9 737.6V758.3M1384.5 738.2V759.5M1387.1 738.0V759.6M1389.7 736.3V757.7M1392.3 732.7V754.0M1394.9 732.7V754.1M1397.5 737.4V754.5M1400.1 731.3V751.9M1402.7 727.8V749.6M1405.3 726.1V746.2M1407.9 720.9V748.6M1410.5 722.7V742.4M1413.1 720.2V744.7M1415.7 722.9V744.7M1418.3 720.5V744.0M1420.9 718.4V741.9M1423.5 716.7V742.3M1426.1 719.5V745.6M1428.7 718.0V739.8M1431.3 712.4V736.1M1433.9 710.5V738.8M1436.5 710.4V735.0M1439.1 706.6V736.3M1441.7 708.3V736.7M1444.3 697.9V733.9M1446.9 700.2V731.1M1449.5 705.3V735.5M1452.1 697.9V730.2M1454.7 695.8V730.6M1457.3 694.6V730.6M1459.9 694.6V730.4M1462.5 700.4V730.0M1465.1 698.6V732.8M1467.7 693.4V732.8M1470.3 693.4V732.9M1472.9 692.2V732.3M1475.5 694.8V728.1M1478.1 692.2V732.9M1480.7 693.7V732.9M1483.3 691.3V730.9M1485.9 692.1V730.9M1488.5 694.9V730.2M1491.1 693.9V725.2M1493.7 688.4V725.0M1496.3 691.0V724.3M1498.9 694.0V730.3M1501.5 688.6V727.5M1504.1 693.2V724.3M1506.7 692.6V728.5M1509.3 690.9V729.5M1511.9 688.8V725.9M1514.5 685.2V722.0M1517.1 687.9V723.9M1519.7 693.5V724.1M1522.3 693.0V724.1M1524.9 693.0V726.0M1527.5 695.0V723.3M1530.1 690.1V726.3M1532.7 690.2V722.2M1535.3 696.0V732.0M1537.9 696.5V728.1M1540.5 690.4V722.4M1543.1 694.1V727.3M1545.7 693.3V720.8M1548.3 693.3V723.2M1550.9 694.2V727.4M1553.5 694.2V729.2M1556.1 690.0V727.4M1558.7 687.4V722.1M1561.3 682.8V718.5M1563.9 691.7V717.2M1566.5 688.0V717.1M1569.1 682.7V720.1M1571.7 678.1V723.4M1574.3 689.1V723.4M1576.9 684.5V724.5M1579.5 684.3V730.3M1582.1 694.1V729.8M1584.7 695.3V729.8M1587.3 695.7V719.3M1589.9 690.1V724.6M1592.5 687.8V721.2M1595.1 684.8V728.5M1597.7 684.4V725.1M1600.3 693.3V717.3M1602.9 688.1V726.3M1605.5 692.8V720.4M1608.1 686.1V723.0M1610.7 689.2V723.1M1613.3 679.4V721.5M1615.9 673.3V715.3M1618.5 675.9V717.7M1621.1 683.3V723.1M1623.7 683.6V723.7M1626.3 682.6V720.9M1628.9 684.5V724.6M1631.5 680.8V726.7M1634.1 679.3V725.7M1636.7 679.4V721.9M1639.3 679.4V718.4M1641.9 674.8V719.5M1644.5 684.7V728.8M1647.1 673.2V724.3M1649.7 684.6V726.7M1652.3 682.1V727.0M1654.9 677.3V726.6M1657.5 678.1V722.4M1660.1 680.7V726.5M1662.7 682.9V730.6M1665.3 681.1V731.8M1667.9 685.3V726.8M1670.5 679.6V728.1M1673.1 679.6V727.9M1675.7 698.5V741.3M1678.3 719.2V738.9M1691.3 520.7V610.3M1693.9 508.8V558.7M1696.5 512.0V547.9M1699.1 511.7V555.7M1701.7 501.2V549.5M1704.3 504.3V549.5M1706.9 510.8V548.6M1709.5 511.1V553.3M1712.1 506.3V550.3M1714.7 499.1V545.7M1717.3 507.9V539.7M1719.9 504.4V552.2M1722.5 506.5V556.5M1725.1 511.4V546.4M1727.7 511.4V558.4M1730.3 506.5V553.1M1732.9 504.8V559.5M1735.5 496.0V551.4M1738.1 507.3V551.4M1740.7 510.6V548.7M1743.3 508.3V548.7M1745.9 505.0V558.5M1748.5 505.0V557.0M1751.1 500.5V548.1M1753.7 494.5V556.1M1756.3 504.8V547.2M1758.9 502.2V560.0M1761.5 507.8V563.9M1764.1 504.8V559.6M1766.7 500.0V554.4M1769.3 505.3V553.0M1771.9 509.2V551.0M1774.5 508.6V551.1M1777.1 508.5V551.3M1779.7 508.8V561.6M1782.3 507.9V554.2M1784.9 505.9V557.0M1787.5 502.2V548.4M1790.1 501.5V550.3M1792.7 501.6V551.8M1795.3 503.4V559.9M1797.9 508.7V558.5M1800.5 505.9V549.8M1803.1 505.9V559.6M1805.7 512.3V564.2M1808.3 512.4V568.7M1810.9 506.1V555.5M1813.5 502.0V553.9M1816.1 517.0V557.7M1818.7 500.8V561.7M1821.3 510.7V558.1M1823.9 505.3V572.0M1826.5 516.5V554.2M1829.1 507.5V556.9M1831.7 515.4V558.9M1834.3 505.9V562.6M1836.9 516.2V567.8M1839.5 513.2V571.6M1842.1 513.7V567.8M1844.7 516.1V557.0M1847.3 511.5V565.0M1849.9 520.2V562.2M1852.5 515.0V569.6M1855.1 514.2V569.9M1857.7 514.2V570.2M1860.3 518.0V589.6M1862.9 518.6V570.6M1865.5 522.3V567.4M1868.1 504.0V572.8M1870.7 516.1V571.5M1873.3 517.8V576.7M1875.9 516.6V567.5M1878.5 512.5V565.5M1881.1 518.5V574.4M1883.7 522.9V575.2M1886.3 516.5V575.2M1888.9 511.3V569.8M1891.5 530.5V575.4M1894.1 523.7V578.6M1896.7 525.4V578.6M1899.3 522.3V570.0M1901.9 520.7V575.4M1904.5 511.4V576.7M1907.1 519.8V577.3M1909.7 529.7V575.9M1912.3 538.2V583.6M1914.9 555.8V592.8M1926.3 403.0V497.8M1928.9 390.3V458.9M1931.5 378.2V458.9M1934.1 382.9V445.2M1936.7 385.9V441.2M1939.3 380.0V452.8M1941.9 389.4V460.0M1944.5 387.6V446.4M1947.1 384.5V457.8M1949.7 387.3V450.3M1952.3 382.9V450.4M1954.9 383.1V443.1M1957.5 377.6V445.0M1960.1 385.9V453.5M1962.7 380.4V456.3M1965.3 380.6V452.1M1967.9 389.2V453.3M1970.5 388.8V456.8M1973.1 402.5V465.5M1975.7 376.9V460.8M1978.3 390.1V463.4M1980.9 394.6V463.4M1983.5 394.9V464.8M1986.1 402.6V466.6M1988.7 400.9V466.6M1991.3 407.7V468.8M1993.9 403.1V468.8M1996.5 403.9V465.8M1999.1 402.2V464.3M2001.7 403.2V471.3M2004.3 400.5V468.8M2006.9 400.5V469.7M2009.5 407.3V470.9M2012.1 405.1V465.5M2014.7 398.3V465.6M2017.3 414.3V471.7M2019.9 412.0V471.7M2022.5 414.4V465.0M2025.1 413.8V464.8M2027.7 404.1V467.3M2030.3 408.5V466.5M2032.9 416.5V468.6M2035.5 415.4V462.3M2038.1 425.7V463.1M2040.7 418.3V465.8M2043.3 421.1V471.6M2045.9 431.6V478.3M2048.5 430.1V479.6M2051.1 430.1V479.5M2053.7 422.9V479.5M2056.3 422.9V472.0M2058.9 439.9V480.7M2061.5 436.0V476.3M2064.1 435.9V474.5M2066.7 443.4V477.5M2069.3 447.4V481.5M2071.9 451.3V487.6M2074.5 449.0V486.1M2077.1 445.9V486.2M2079.7 456.0V486.3M2082.3 458.0V484.8M2084.9 460.1V488.2M2087.5 466.0V485.9M2090.1 471.5V481.1" stroke="#ff0000" stroke-width="2.6" opacity="0.45" fill="none"/>
<path d="M656.3 1247.3V1254.4M658.9 1237.5V1248.6M661.5 1224.7V1240.2M664.1 1205.6V1227.8M666.7 1186.4V1210.9M669.3 1173.5V1194.1M671.9 1167.0V1177.4M674.5 1158.9V1170.8M677.1 1154.9V1167.8M679.7 1156.8V1170.7M682.3 1161.7V1171.3M684.9 1156.9V1173.7M687.5 1159.8V1176.8M690.1 1168.0V1180.2M692.7 1168.0V1185.1M695.3 1167.7V1181.5M697.9 1179.5V1196.9M700.5 1172.2V1196.7M703.1 1172.8V1190.0M705.7 1173.1V1185.2M708.3 1183.6V1201.0M710.9 1196.4V1205.6M713.5 1195.2V1209.0M716.1 1190.9V1206.8M718.7 1176.9V1188.8M721.3 1179.5V1194.1M723.9 1180.0V1190.7M726.5 1170.2V1186.7M729.1 1169.0V1184.3M731.7 1166.3V1174.9M734.3 1172.0V1178.8M736.9 1174.1V1184.1M739.5 1180.4V1191.4M742.1 1178.4V1190.7M744.7 1175.6V1192.5M747.3 1179.4V1188.2M749.9 1174.8V1188.4M752.5 1165.8V1180.8M755.1 1166.0V1178.3M757.7 1166.7V1180.9M760.3 1168.4V1180.0M762.9 1168.4V1179.9M765.5 1176.5V1184.2M768.1 1167.4V1180.0M770.7 1168.0V1180.7M773.3 1164.6V1173.7M775.9 1170.0V1178.4M778.5 1179.3V1193.4M781.1 1178.8V1194.1M783.7 1170.6V1191.0M786.3 1175.2V1191.0M788.9 1178.6V1191.2M791.5 1172.2V1189.8M794.1 1175.0V1194.1M796.7 1174.6V1193.1M799.3 1174.2V1185.7M801.9 1181.7V1191.9M804.5 1183.8V1193.9M807.1 1181.7V1194.0M809.7 1183.3V1197.3M812.3 1183.0V1189.3M814.9 1172.5V1190.3M817.5 1182.2V1189.9M820.1 1194.9V1208.4M822.7 1186.8V1206.4M825.3 1190.0V1197.9M827.9 1198.1V1206.2M830.5 1193.4V1204.5M833.1 1190.7V1206.3M835.7 1190.8V1206.3M838.3 1188.4V1205.6M840.9 1186.1V1192.8M843.5 1193.0V1203.6M846.1 1200.9V1208.4M848.7 1203.5V1212.0M851.3 1206.1V1219.0M853.9 1193.8V1210.7M856.5 1186.2V1205.0M859.1 1179.7V1196.5M861.7 1175.7V1191.3M864.3 1171.9V1183.1M866.9 1171.3V1194.0M869.5 1174.9V1190.0M872.1 1177.0V1186.9M874.7 1180.0V1193.1M877.3 1186.7V1198.0M879.9 1196.3V1205.3M882.5 1181.5V1200.9M885.1 1172.8V1187.5M887.7 1172.0V1185.5M890.3 1165.7V1180.6M892.9 1143.8V1169.5M895.5 1148.4V1180.3M898.1 1146.7V1159.5M900.7 1147.9V1160.4M903.3 1147.6V1161.1M905.9 1145.0V1155.9M908.5 1152.9V1175.1M911.1 1144.1V1160.6M913.7 1136.2V1170.1M916.3 1163.3V1184.1M918.9 1161.6V1178.5M921.5 1165.0V1180.6M924.1 1163.2V1181.1M926.7 1176.9V1187.4M929.3 1181.9V1194.5M931.9 1175.0V1193.1M934.5 1183.5V1191.6M937.1 1183.6V1192.2M939.7 1182.2V1192.5M942.3 1178.7V1196.0M944.9 1168.0V1186.9M947.5 1167.0V1183.0M950.1 1157.5V1178.4M952.7 1145.0V1160.6M955.3 1140.2V1165.2M957.9 1148.5V1169.7M960.5 1160.2V1177.8M963.1 1164.7V1181.3M965.7 1165.4V1191.2M968.3 1167.4V1197.7M970.9 1171.9V1198.4M973.5 1164.2V1187.2M976.1 1157.3V1172.2M978.7 1153.8V1172.3M981.3 1149.1V1172.0M983.9 1145.4V1168.5M986.5 1144.9V1162.0M989.1 1152.8V1172.4M991.7 1152.7V1175.6M994.3 1133.6V1163.7M996.9 1128.4V1150.4M999.5 1136.2V1159.3M1002.1 1147.4V1171.8M1004.7 1147.2V1171.1M1007.3 1164.1V1183.6M1009.9 1174.9V1187.3M1012.5 1180.5V1191.3M1015.1 1185.9V1193.9M1017.7 1183.3V1197.3M1020.3 1183.0V1191.5M1022.9 1179.0V1188.8M1025.5 1173.8V1181.0M1028.1 1172.4V1188.2M1030.7 1178.5V1188.3M1033.3 1179.7V1189.4M1035.9 1179.7V1191.6M1038.5 1179.6V1190.8M1041.1 1180.0V1191.6M1043.7 1188.0V1199.9M1046.3 1193.7V1201.1M1048.9 1190.2V1194.7M1051.5 1184.5V1190.6M1054.1 1176.3V1187.0M1056.7 1172.4V1183.3M1059.3 1175.7V1186.0M1061.9 1175.1V1182.4M1064.5 1174.6V1181.0M1067.1 1185.6V1191.7M1069.7 1182.0V1188.4M1072.3 1181.3V1192.6M1074.9 1185.1V1191.2M1077.5 1185.5V1192.1M1080.1 1182.9V1191.4M1082.7 1165.2V1190.8M1085.3 1171.1V1187.7M1087.9 1173.0V1178.6M1090.5 1173.3V1181.1M1093.1 1169.5V1179.2M1095.7 1162.0V1169.3M1098.3 1156.3V1178.1M1100.9 1166.1V1179.8M1103.5 1167.2V1172.6M1106.1 1158.9V1170.2M1108.7 1162.9V1169.8M1111.3 1154.8V1174.3M1113.9 1151.5V1180.4M1116.5 1138.0V1161.7M1119.1 1141.4V1165.7M1121.7 1143.3V1164.6M1124.3 1138.6V1167.9M1126.9 1151.7V1174.5M1129.5 1164.1V1175.1M1132.1 1174.8V1187.0M1134.7 1179.9V1192.5M1137.3 1184.5V1193.2M1139.9 1186.1V1210.2M1142.5 1187.7V1195.2M1145.1 1188.1V1198.1M1147.7 1191.9V1199.0M1150.3 1174.7V1200.6M1152.9 1189.3V1204.0M1155.5 1192.2V1200.3M1158.1 1193.6V1198.3M1160.7 1187.1V1204.3M1163.3 1183.9V1199.8M1165.9 1173.9V1186.4M1168.5 1171.4V1187.6M1171.1 1182.3V1202.7M1173.7 1170.0V1188.9M1176.3 1153.9V1186.0M1178.9 1161.9V1178.9M1181.5 1149.3V1172.4M1184.1 1144.2V1164.3M1186.7 1131.9V1148.7M1189.3 1125.3V1138.7M1191.9 1113.5V1128.4M1194.5 1104.7V1121.7M1197.1 1103.5V1120.8M1199.7 1108.0V1119.3M1202.3 1112.3V1121.2M1204.9 1109.7V1123.6M1207.5 1117.2V1123.7M1210.1 1115.0V1140.3M1212.7 1115.2V1131.3M1215.3 1114.9V1129.8M1217.9 1131.6V1158.4M1220.5 1124.5V1151.0M1223.1 1133.9V1153.8M1225.7 1146.5V1165.2M1228.3 1147.8V1161.3M1230.9 1148.2V1162.9M1233.5 1153.3V1168.1M1236.1 1155.8V1167.2M1238.7 1151.7V1172.2M1241.3 1163.5V1175.6M1243.9 1171.9V1180.9M1246.5 1168.2V1177.0M1249.1 1152.9V1175.4M1251.7 1129.5V1155.9M1254.3 1116.8V1155.8M1256.9 1109.5V1134.3M1259.5 1112.8V1132.9M1262.1 1121.8V1142.5M1264.7 1131.7V1161.3M1267.3 1133.2V1156.5M1269.9 1143.9V1155.6M1272.5 1143.0V1152.5M1275.1 1146.9V1152.6M1277.7 1147.8V1156.4M1280.3 1153.2V1164.6M1282.9 1153.1V1165.8M1285.5 1155.9V1166.6M1288.1 1151.5V1169.2M1290.7 1152.6V1162.3M1293.3 1153.7V1170.0M1295.9 1151.5V1165.8M1298.5 1156.1V1168.7M1301.1 1153.7V1162.6M1303.7 1146.7V1162.3M1306.3 1149.0V1156.8M1308.9 1142.5V1154.6M1311.5 1158.6V1174.5M1314.1 1153.6V1159.5M1316.7 1151.7V1158.7M1319.3 1153.1V1163.5M1321.9 1151.8V1158.3M1324.5 1151.6V1161.9M1327.1 1150.6V1162.6M1329.7 1159.6V1168.5M1340.3 790.9V828.3M1342.9 783.4V807.6M1345.5 775.7V801.1M1348.1 771.1V800.9M1350.7 764.2V789.9M1353.3 757.2V781.9M1355.9 753.9V775.3M1358.5 753.8V775.3M1361.1 755.5V772.2M1363.7 753.3V769.7M1366.3 750.7V772.5M1368.9 754.1V769.9M1371.5 753.5V769.0M1374.1 751.1V767.6M1376.7 746.7V765.0M1379.3 744.5V760.0M1381.9 739.2V758.3M1384.5 741.9V759.0M1387.1 738.1V758.4M1389.7 736.3V754.6M1392.3 734.6V753.8M1394.9 734.4V754.1M1397.5 737.4V752.2M1400.1 731.3V751.9M1402.7 727.8V749.6M1405.3 727.3V746.2M1407.9 722.4V748.6M1410.5 722.7V742.3M1413.1 720.5V743.0M1415.7 722.9V742.1M1418.3 721.3V744.0M1420.9 718.4V739.7M1423.5 717.1V742.0M1426.1 719.8V745.0M1428.7 718.0V738.6M1431.3 713.9V734.1M1433.9 712.9V738.5M1436.5 712.2V735.0M1439.1 706.6V735.2M1441.7 708.3V735.3M1444.3 704.0V732.7M1446.9 701.8V730.7M1449.5 705.5V728.6M1452.1 704.1V729.3M1454.7 695.8V729.4M1457.3 697.2V729.1M1459.9 699.3V730.4M1462.5 702.4V729.0M1465.1 698.8V727.7M1467.7 697.4V727.9M1470.3 698.6V726.9M1472.9 695.1V728.9M1475.5 697.9V728.0M1478.1 692.2V724.1M1480.7 697.3V730.9M1483.3 699.0V730.4M1485.9 694.1V727.0M1488.5 698.3V725.7M1491.1 698.2V723.6M1493.7 690.9V723.3M1496.3 697.9V723.5M1498.9 694.8V728.5M1501.5 694.9V724.9M1504.1 693.2V724.0M1506.7 692.6V723.6M1509.3 691.4V718.2M1511.9 688.8V725.9M1514.5 688.5V719.5M1517.1 689.0V722.3M1519.7 699.9V724.0M1522.3 695.3V723.3M1524.9 698.4V724.6M1527.5 699.8V722.4M1530.1 690.2V722.4M1532.7 693.7V722.1M1535.3 696.9V726.2M1537.9 696.5V724.8M1540.5 695.6V722.0M1543.1 695.9V726.0M1545.7 693.9V719.5M1548.3 695.1V722.0M1550.9 694.8V727.3M1553.5 694.2V725.0M1556.1 695.6V724.7M1558.7 693.6V719.9M1561.3 685.1V717.5M1563.9 692.7V715.3M1566.5 690.7V713.4M1569.1 685.0V717.7M1571.7 687.7V719.6M1574.3 691.4V722.9M1576.9 685.4V718.6M1579.5 686.6V726.3M1582.1 697.4V729.2M1584.7 695.6V729.1M1587.3 698.0V719.1M1589.9 695.4V721.6M1592.5 694.6V720.7M1595.1 691.0V726.8M1597.7 692.1V722.3M1600.3 693.7V717.2M1602.9 691.6V722.7M1605.5 693.3V718.8M1608.1 689.4V722.3M1610.7 691.8V721.7M1613.3 686.9V721.2M1615.9 675.6V713.5M1618.5 684.9V716.7M1621.1 684.6V722.9M1623.7 686.0V721.6M1626.3 684.3V720.5M1628.9 688.0V723.8M1631.5 684.0V716.3M1634.1 679.7V722.6M1636.7 679.8V717.5M1639.3 683.5V718.1M1641.9 678.7V715.6M1644.5 685.4V724.9M1647.1 673.2V717.3M1649.7 684.6V726.0M1652.3 686.0V723.7M1654.9 678.2V725.8M1657.5 682.6V717.7M1660.1 681.1V724.4M1662.7 685.1V726.5M1665.3 686.2V731.4M1667.9 687.4V724.8M1670.5 685.4V721.1M1673.1 688.6V727.7M1675.7 698.5V741.3M1678.3 720.0V738.9M1691.3 523.1V610.3M1693.9 514.4V556.7M1696.5 513.4V543.0M1699.1 513.2V551.3M1701.7 510.2V548.6M1704.3 511.1V544.2M1706.9 512.9V545.9M1709.5 511.1V550.4M1712.1 508.7V541.5M1714.7 505.2V545.2M1717.3 510.1V538.9M1719.9 507.7V548.2M1722.5 506.9V554.6M1725.1 511.6V546.0M1727.7 513.5V554.5M1730.3 511.0V547.1M1732.9 506.5V553.2M1735.5 504.2V549.7M1738.1 510.6V545.7M1740.7 511.7V546.3M1743.3 508.8V545.2M1745.9 506.2V551.8M1748.5 506.6V556.5M1751.1 505.4V546.9M1753.7 501.1V548.4M1756.3 507.0V545.1M1758.9 509.4V546.9M1761.5 510.0V560.2M1764.1 513.4V550.6M1766.7 504.4V551.5M1769.3 505.9V550.6M1771.9 513.3V550.6M1774.5 508.6V548.2M1777.1 512.6V551.1M1779.7 513.4V553.3M1782.3 510.6V552.6M1784.9 512.7V554.7M1787.5 502.4V546.2M1790.1 503.1V549.6M1792.7 504.8V549.6M1795.3 505.2V553.5M1797.9 512.3V555.8M1800.5 507.1V543.4M1803.1 514.4V553.1M1805.7 517.5V561.0M1808.3 517.6V567.1M1810.9 507.0V553.7M1813.5 508.5V553.0M1816.1 517.6V553.7M1818.7 510.3V560.7M1821.3 513.4V553.8M1823.9 511.0V563.5M1826.5 517.4V554.0M1829.1 514.4V555.7M1831.7 518.7V555.3M1834.3 508.6V559.8M1836.9 518.7V555.9M1839.5 513.8V566.9M1842.1 517.8V566.7M1844.7 516.8V555.8M1847.3 514.0V562.0M1849.9 520.9V560.8M1852.5 515.0V567.1M1855.1 515.1V568.9M1857.7 517.3V570.1M1860.3 529.9V570.7M1862.9 519.3V567.1M1865.5 523.4V562.6M1868.1 515.1V563.5M1870.7 518.8V564.8M1873.3 519.7V572.2M1875.9 522.2V565.8M1878.5 514.6V565.5M1881.1 519.2V568.4M1883.7 523.2V565.0M1886.3 522.5V575.0M1888.9 519.4V567.2M1891.5 535.2V574.4M1894.1 523.9V567.5M1896.7 527.9V571.2M1899.3 522.3V564.7M1901.9 521.3V571.9M1904.5 515.6V573.5M1907.1 521.8V575.6M1909.7 532.2V575.6M1912.3 538.2V583.6M1914.9 555.8V592.8M1926.3 403.0V497.8M1928.9 391.2V447.0M1931.5 384.6V440.7M1934.1 385.0V441.9M1936.7 387.1V439.0M1939.3 392.9V440.1M1941.9 389.7V446.2M1944.5 388.3V440.9M1947.1 387.8V448.7M1949.7 388.6V448.1M1952.3 396.8V444.7M1954.9 393.1V436.4M1957.5 385.3V442.9M1960.1 392.6V443.9M1962.7 388.5V448.8M1965.3 389.1V450.6M1967.9 395.1V443.7M1970.5 391.1V455.7M1973.1 406.0V464.4M1975.7 387.5V460.8M1978.3 395.8V460.0M1980.9 397.5V453.9M1983.5 403.7V463.6M1986.1 404.8V464.1M1988.7 400.9V463.5M1991.3 407.7V461.6M1993.9 410.8V467.8M1996.5 407.1V463.6M1999.1 405.0V461.8M2001.7 403.5V467.1M2004.3 407.8V466.1M2006.9 409.1V463.4M2009.5 410.4V464.3M2012.1 407.0V465.5M2014.7 406.0V460.5M2017.3 415.1V467.6M2019.9 423.3V469.0M2022.5 416.3V463.4M2025.1 414.9V461.9M2027.7 407.4V463.8M2030.3 416.5V462.3M2032.9 420.2V467.6M2035.5 419.3V461.8M2038.1 426.1V462.6M2040.7 423.5V463.7M2043.3 428.3V471.4M2045.9 431.6V471.0M2048.5 434.5V472.8M2051.1 435.6V475.4M2053.7 433.0V477.4M2056.3 434.0V472.0M2058.9 440.0V474.7M2061.5 438.5V474.7M2064.1 435.9V471.3M2066.7 443.4V476.9M2069.3 449.4V478.8M2071.9 451.7V483.2M2074.5 450.9V484.0M2077.1 453.8V486.2M2079.7 458.0V485.1M2082.3 458.0V484.8M2084.9 464.7V488.2M2087.5 466.0V485.9M2090.1 471.6V481.0" stroke="#ff0000" stroke-width="2.6" fill="none"/></g>
<path d="M1329.0 1165.0L1331.5 1230.0L1333.0 1230.0L1339.5 830.0L1341.0 800.0" stroke="#ff3030" stroke-width="2.6" fill="none" stroke-linejoin="round" opacity="0.9"/>
<path d="M1677.5 730.0L1681.5 1165.0L1683.5 1165.0L1689.0 560.0L1691.0 535.0" stroke="#ff3030" stroke-width="2.6" fill="none" stroke-linejoin="round" opacity="0.9"/>
<path d="M1915.0 580.0L1917.0 1178.0L1919.5 1178.0L1925.5 520.0L1927.5 420.0" stroke="#ff3030" stroke-width="2.6" fill="none" stroke-linejoin="round" opacity="0.9"/>
<path d="M2089.0 478.0L2092.0 209.0" stroke="#ff3030" stroke-width="2.6" fill="none" stroke-linejoin="round" opacity="0.9"/>
<g filter="url(#bl)"><path d="M656.3 1248.8V1254.4M658.9 1242.5V1249.7M661.5 1229.5V1245.0M664.1 1215.9V1232.6M666.7 1201.3V1219.1M669.3 1194.6V1206.8M671.9 1194.6V1207.5M674.5 1186.8V1216.1M677.1 1193.1V1216.1M679.7 1186.6V1205.3M682.3 1191.1V1205.6M684.9 1187.5V1205.6M687.5 1188.3V1218.9M690.1 1185.7V1203.6M692.7 1192.3V1201.3M695.3 1182.2V1204.7M697.9 1182.2V1211.4M700.5 1194.1V1211.3M703.1 1187.2V1204.3M705.7 1187.2V1213.2M708.3 1190.1V1203.7M710.9 1188.6V1204.6M713.5 1189.7V1207.4M716.1 1190.8V1207.7M718.7 1199.6V1207.6M721.3 1199.6V1209.0M723.9 1192.0V1205.2M726.5 1192.0V1205.2M729.1 1192.7V1203.1M731.7 1193.0V1208.2M734.3 1189.5V1212.0M736.9 1198.8V1225.5M739.5 1192.9V1225.5M742.1 1195.1V1211.2M744.7 1194.9V1221.5M747.3 1197.6V1221.5M749.9 1197.6V1212.9M752.5 1197.9V1208.6M755.1 1188.7V1208.6M757.7 1192.4V1207.4M760.3 1185.4V1207.4M762.9 1195.5V1203.4M765.5 1197.0V1211.0M768.1 1187.6V1216.9M770.7 1187.6V1210.3M773.3 1199.2V1208.5M775.9 1204.6V1209.2M778.5 1193.2V1207.6M781.1 1197.1V1216.1M783.7 1202.6V1216.8M786.3 1190.7V1215.7M788.9 1193.9V1212.0M791.5 1205.0V1222.3M794.1 1198.6V1225.8M796.7 1196.3V1219.5M799.3 1196.3V1211.0M801.9 1193.0V1216.4M804.5 1193.0V1209.4M807.1 1200.8V1215.0M809.7 1197.6V1220.6M812.3 1197.2V1215.2M814.9 1204.4V1215.4M817.5 1201.9V1215.2M820.1 1194.8V1222.9M822.7 1202.4V1219.3M825.3 1202.4V1227.4M827.9 1205.8V1215.4M830.5 1203.5V1213.0M833.1 1203.4V1220.2M835.7 1209.4V1224.8M838.3 1201.6V1224.8M840.9 1201.6V1219.8M843.5 1206.6V1219.8M846.1 1201.8V1218.0M848.7 1197.4V1212.8M851.3 1197.4V1215.2M853.9 1194.4V1221.5M856.5 1200.4V1221.5M859.1 1198.9V1225.8M861.7 1193.9V1215.3M864.3 1190.4V1215.3M866.9 1190.4V1203.6M869.5 1193.0V1203.3M872.1 1198.3V1211.6M874.7 1193.7V1210.0M877.3 1187.5V1210.0M879.9 1187.5V1205.9M882.5 1186.0V1203.4M885.1 1191.5V1203.4M887.7 1193.9V1213.2M890.3 1190.6V1213.2M892.9 1190.6V1224.3M895.5 1196.1V1224.3M898.1 1172.3V1203.2M900.7 1177.2V1200.3M903.3 1165.4V1193.7M905.9 1165.4V1189.7M908.5 1173.4V1201.6M911.1 1185.0V1201.6M913.7 1188.9V1211.0M916.3 1184.8V1211.0M918.9 1192.9V1204.8M921.5 1192.0V1203.5M924.1 1184.8V1203.2M926.7 1185.3V1201.8M929.3 1179.2V1204.1M931.9 1179.2V1204.1M934.5 1188.9V1200.5M937.1 1187.0V1204.4M939.7 1186.6V1207.8M942.3 1186.1V1195.8M944.9 1181.9V1201.6M947.5 1187.7V1210.2M950.1 1186.9V1210.2M952.7 1188.0V1200.4M955.3 1186.4V1200.5M957.9 1179.9V1196.9M960.5 1177.4V1187.7M963.1 1177.4V1209.3M965.7 1189.7V1209.4M968.3 1191.0V1209.3M970.9 1191.5V1203.4M973.5 1193.0V1204.9M976.1 1190.4V1200.6M978.7 1191.1V1203.8M981.3 1192.6V1203.8M983.9 1189.8V1205.3M986.5 1184.0V1200.7M989.1 1186.4V1202.7M991.7 1183.0V1201.5M994.3 1183.3V1199.6M996.9 1183.5V1195.0M999.5 1179.2V1199.6M1002.1 1184.1V1202.7M1004.7 1190.5V1205.7M1007.3 1191.2V1207.3M1009.9 1188.2V1207.4M1012.5 1191.3V1218.4M1015.1 1193.5V1218.4M1017.7 1185.7V1213.5M1020.3 1185.1V1213.5M1022.9 1185.1V1203.9M1025.5 1192.2V1210.7M1028.1 1193.8V1210.7M1030.7 1195.9V1212.4M1033.3 1184.6V1206.8M1035.9 1195.1V1210.3M1038.5 1194.3V1211.2M1041.1 1194.3V1205.4M1043.7 1193.5V1205.4M1046.3 1190.8V1205.7M1048.9 1185.0V1209.7M1051.5 1185.0V1201.3M1054.1 1186.0V1203.4M1056.7 1193.2V1206.4M1059.3 1193.0V1212.6M1061.9 1195.4V1203.5M1064.5 1194.2V1206.6M1067.1 1194.6V1204.5M1069.7 1183.9V1211.9M1072.3 1193.8V1207.2M1074.9 1179.8V1202.4M1077.5 1179.8V1207.0M1080.1 1193.3V1207.0M1082.7 1180.1V1209.6M1085.3 1180.1V1202.2M1087.9 1191.4V1206.2M1090.5 1191.4V1200.4M1093.1 1196.3V1207.3M1095.7 1191.4V1221.5M1098.3 1191.4V1206.7M1100.9 1188.1V1206.7M1103.5 1186.1V1205.2M1106.1 1195.0V1208.5M1108.7 1191.1V1206.5M1111.3 1186.3V1205.5M1113.9 1190.5V1204.0M1116.5 1184.8V1203.2M1119.1 1179.7V1196.8M1121.7 1179.7V1200.0M1124.3 1188.1V1199.0M1126.9 1193.1V1210.4M1129.5 1192.0V1201.4M1132.1 1188.9V1200.1M1134.7 1186.1V1205.4M1137.3 1186.1V1205.4M1139.9 1196.8V1200.7M1142.5 1192.3V1208.7M1145.1 1189.9V1209.1M1147.7 1189.9V1208.2M1150.3 1190.4V1208.2M1152.9 1187.8V1211.0M1155.5 1187.8V1203.2M1158.1 1191.2V1204.8M1160.7 1188.4V1204.8M1163.3 1188.5V1206.9M1165.9 1194.9V1206.9M1168.5 1190.1V1208.5M1171.1 1185.2V1214.5M1173.7 1187.4V1214.5M1176.3 1188.7V1205.4M1178.9 1186.2V1196.7M1181.5 1181.8V1195.2M1184.1 1177.8V1196.8M1186.7 1173.5V1196.8M1189.3 1171.0V1185.0M1191.9 1166.0V1185.0M1194.5 1161.6V1179.6M1197.1 1159.3V1177.8M1199.7 1157.6V1172.4M1202.3 1150.1V1172.7M1204.9 1158.0V1177.8M1207.5 1164.8V1178.4M1210.1 1163.1V1177.6M1212.7 1157.8V1179.5M1215.3 1168.0V1182.2M1217.9 1169.3V1183.2M1220.5 1162.9V1186.7M1223.1 1169.2V1199.0M1225.7 1168.6V1181.9M1228.3 1168.6V1184.8M1230.9 1176.8V1192.5M1233.5 1183.7V1193.0M1236.1 1184.7V1192.6M1238.7 1171.7V1189.1M1241.3 1179.7V1192.1M1243.9 1186.7V1204.7M1246.5 1174.6V1204.7M1249.1 1181.5V1197.2M1251.7 1172.3V1197.2M1254.3 1177.4V1191.9M1256.9 1168.9V1182.8M1259.5 1163.8V1184.2M1262.1 1166.5V1187.0M1264.7 1167.0V1182.2M1267.3 1165.0V1176.9M1269.9 1165.8V1180.3M1272.5 1159.0V1179.3M1275.1 1159.0V1180.1M1277.7 1169.7V1184.3M1280.3 1166.2V1188.7M1282.9 1167.8V1180.5M1285.5 1166.3V1177.4M1288.1 1168.5V1179.3M1290.7 1163.1V1179.2M1293.3 1145.3V1179.2M1295.9 1167.3V1182.9M1298.5 1168.6V1182.9M1301.1 1165.2V1180.9M1303.7 1166.1V1187.2M1306.3 1166.1V1187.2M1308.9 1161.6V1178.9M1311.5 1161.6V1177.5M1314.1 1167.6V1181.5M1316.7 1160.2V1181.5M1319.3 1160.2V1185.1M1321.9 1164.3V1188.4M1324.5 1171.3V1188.4M1327.1 1170.1V1184.9M1329.7 1170.1V1180.2" stroke="#000000" stroke-width="2.6" opacity="0.45" fill="none"/>
<path d="M1342.3 1013.0V1030.0M1344.9 1011.0V1026.5M1347.5 1011.1V1024.4M1350.1 1007.9V1022.2M1352.7 1006.0V1020.0M1355.3 1006.1V1018.4M1357.9 1006.4V1017.0M1360.5 1002.9V1015.1M1363.1 1002.8V1014.1M1365.7 1000.6V1012.0M1368.3 999.3V1011.0M1370.9 998.0V1006.5M1373.5 996.7V1004.3M1376.1 996.4V1004.3M1378.7 994.2V1001.7M1381.3 992.2V999.6M1383.9 990.7V999.4M1386.5 989.7V999.3M1389.1 991.3V1001.2M1391.7 992.0V1000.6M1394.3 991.4V1000.3M1396.9 988.8V998.6M1399.5 986.8V998.1M1402.1 985.2V994.7M1404.7 985.2V995.6M1407.3 984.7V992.4M1409.9 983.2V992.0M1412.5 984.4V994.5M1415.1 985.0V994.4M1417.7 983.1V993.6M1420.3 977.8V991.1M1422.9 977.9V988.6M1425.5 978.2V988.6M1428.1 980.6V991.7M1430.7 980.0V990.6M1433.3 978.7V989.7M1435.9 982.1V991.4M1438.5 979.5V991.2M1441.1 978.0V990.1M1443.7 975.9V986.7M1446.3 975.8V988.2M1448.9 976.5V987.2M1451.5 978.8V989.2M1454.1 977.8V986.7M1456.7 974.4V988.9M1459.3 979.6V990.9M1461.9 977.9V990.9M1464.5 976.8V989.9M1467.1 979.9V991.7M1469.7 979.2V989.5M1472.3 975.9V987.5M1474.9 974.3V985.3M1477.5 975.3V987.5M1480.1 975.6V988.1M1482.7 976.8V992.1M1485.3 976.2V986.4M1487.9 975.7V985.7M1490.5 976.5V987.5M1493.1 975.5V987.4M1495.7 975.5V988.9M1498.3 973.8V988.7M1500.9 974.3V985.8M1503.5 975.7V985.1M1506.1 975.2V986.9M1508.7 970.7V985.0M1511.3 970.7V984.8M1513.9 972.2V984.3M1516.5 971.3V984.6M1519.1 972.5V984.6M1521.7 970.6V983.1M1524.3 971.4V984.4M1526.9 975.4V986.7M1529.5 973.3V984.3M1532.1 972.8V984.6M1534.7 972.8V984.8M1537.3 973.0V986.6M1539.9 974.1V985.3M1542.5 972.6V983.8M1545.1 970.5V985.7M1547.7 975.0V987.8M1550.3 975.6V986.1M1552.9 975.7V987.3M1555.5 975.0V986.7M1558.1 973.9V983.8M1560.7 972.8V984.4M1563.3 974.6V986.0M1565.9 973.6V986.7M1568.5 970.3V986.9M1571.1 970.8V982.6M1573.7 969.4V981.4M1576.3 967.8V983.3M1578.9 969.6V983.5M1581.5 970.4V983.5M1584.1 970.4V986.3M1586.7 972.4V986.7M1589.3 970.1V980.9M1591.9 972.1V983.9M1594.5 970.0V982.2M1597.1 968.3V981.4M1599.7 969.5V985.2M1602.3 971.8V983.5M1604.9 969.0V983.9M1607.5 970.2V984.5M1610.1 971.0V985.3M1612.7 971.0V982.0M1615.3 972.5V983.7M1617.9 968.8V982.0M1620.5 970.0V984.1M1623.1 969.9V986.5M1625.7 970.8V985.7M1628.3 968.3V983.7M1630.9 968.3V983.7M1633.5 969.5V983.4M1636.1 970.4V983.5M1638.7 966.8V982.5M1641.3 970.8V983.9M1643.9 970.8V982.5M1646.5 970.1V983.4M1649.1 972.3V984.8M1651.7 968.3V983.1M1654.3 968.3V983.7M1656.9 968.4V982.7M1659.5 970.1V982.8M1662.1 970.7V983.4M1664.7 971.7V986.0M1667.3 972.2V986.8M1669.9 977.7V995.7M1672.5 987.1V997.8M1675.1 987.2V990.0M1690.3 918.5V963.5M1692.9 921.2V934.0M1695.5 917.9V936.5M1698.1 919.3V938.2M1700.7 919.0V933.8M1703.3 914.3V932.7M1705.9 914.3V935.6M1708.5 915.8V932.9M1711.1 910.6V927.8M1713.7 910.6V928.6M1716.3 912.9V931.2M1718.9 914.9V932.5M1721.5 917.4V934.3M1724.1 921.3V936.0M1726.7 913.1V931.8M1729.3 915.9V932.1M1731.9 914.0V932.5M1734.5 913.8V934.9M1737.1 912.8V929.3M1739.7 912.3V930.6M1742.3 913.1V930.6M1744.9 914.1V931.1M1747.5 914.0V928.9M1750.1 912.8V927.9M1752.7 912.9V927.8M1755.3 910.7V927.8M1757.9 907.7V928.6M1760.5 914.0V932.2M1763.1 914.7V931.3M1765.7 914.7V936.1M1768.3 914.9V932.2M1770.9 909.5V934.3M1773.5 914.9V931.7M1776.1 913.5V932.5M1778.7 910.6V933.2M1781.3 909.4V925.4M1783.9 914.7V929.2M1786.5 916.0V933.2M1789.1 913.4V933.4M1791.7 912.6V933.4M1794.3 916.9V930.6M1796.9 916.3V932.0M1799.5 914.4V931.3M1802.1 912.3V931.1M1804.7 913.2V930.1M1807.3 914.9V931.7M1809.9 912.5V931.0M1812.5 914.3V933.9M1815.1 915.4V937.6M1817.7 913.3V934.8M1820.3 911.7V934.8M1822.9 918.5V938.3M1825.5 913.1V938.3M1828.1 917.3V934.9M1830.7 918.3V936.5M1833.3 919.3V942.0M1835.9 920.1V937.0M1838.5 915.2V937.3M1841.1 911.9V934.4M1843.7 911.9V934.7M1846.3 915.4V935.3M1848.9 917.6V941.7M1851.5 917.0V939.4M1854.1 917.9V938.7M1856.7 921.6V941.5M1859.3 915.8V941.1M1861.9 915.8V936.3M1864.5 917.5V934.5M1867.1 913.9V940.1M1869.7 913.9V939.6M1872.3 915.9V942.3M1874.9 916.3V941.9M1877.5 912.7V941.9M1880.1 915.9V937.3M1882.7 913.4V940.2M1885.3 921.2V941.9M1887.9 918.8V942.2M1890.5 920.9V943.4M1893.1 919.8V943.5M1895.7 922.4V942.0M1898.3 918.5V938.3M1900.9 918.6V944.7M1903.5 921.6V945.2M1906.1 921.7V946.5M1908.7 928.1V951.9M1911.3 930.6V955.1M1913.9 943.3V952.4M1927.3 884.2V920.8M1929.9 876.2V905.1M1932.5 878.8V910.8M1935.1 877.4V908.2M1937.7 880.4V907.8M1940.3 880.4V911.5M1942.9 872.0V905.2M1945.5 877.2V903.3M1948.1 878.2V907.0M1950.7 881.2V908.2M1953.3 880.0V910.2M1955.9 884.8V909.7M1958.5 885.1V910.5M1961.1 885.1V915.3M1963.7 883.2V914.9M1966.3 885.8V911.5M1968.9 879.3V912.6M1971.5 885.7V915.6M1974.1 889.8V919.0M1976.7 886.0V915.7M1979.3 885.6V912.6M1981.9 886.1V910.4M1984.5 883.0V910.7M1987.1 883.6V916.2M1989.7 886.3V913.6M1992.3 885.1V909.9M1994.9 879.1V912.3M1997.5 886.7V910.1M2000.1 876.9V911.3M2002.7 883.5V914.1M2005.3 890.7V919.1M2007.9 884.5V919.1M2010.5 887.5V922.5M2013.1 887.4V917.1M2015.7 892.0V920.8M2018.3 895.7V919.1M2020.9 895.2V920.7M2023.5 892.2V918.9M2026.1 891.7V919.8M2028.7 890.8V914.9M2031.3 890.3V921.3M2033.9 900.6V922.8M2036.5 893.9V920.9M2039.1 895.6V925.6M2041.7 894.9V917.6M2044.3 898.1V916.4M2046.9 893.6V919.2M2049.5 899.3V922.7M2052.1 892.5V928.2M2054.7 899.8V928.2M2057.3 901.8V931.0M2059.9 904.1V926.9M2062.5 904.4V923.7M2065.1 901.0V925.8M2067.7 899.7V920.8M2070.3 904.9V925.0M2072.9 902.2V921.3M2075.5 904.8V919.0M2078.1 905.2V924.6M2080.7 905.2V923.2M2083.3 903.5V921.6M2085.9 903.5V927.4M2088.5 915.6V938.1" stroke="#000000" stroke-width="2.6" opacity="0.45" fill="none"/>
<path d="M656.3 1248.8V1254.4M658.9 1242.5V1249.7M661.5 1229.5V1245.0M664.1 1215.9V1232.6M666.7 1202.2V1219.1M669.3 1196.9V1206.8M671.9 1196.2V1206.3M674.5 1188.9V1205.2M677.1 1193.5V1201.3M679.7 1192.2V1199.6M682.3 1192.0V1200.9M684.9 1187.8V1199.6M687.5 1194.3V1206.3M690.1 1190.9V1200.2M692.7 1192.3V1200.9M695.3 1192.1V1201.0M697.9 1193.5V1206.9M700.5 1194.7V1205.8M703.1 1193.8V1203.9M705.7 1193.1V1212.6M708.3 1193.3V1200.8M710.9 1189.3V1204.1M713.5 1190.4V1204.0M716.1 1194.2V1207.7M718.7 1199.6V1207.3M721.3 1199.7V1204.6M723.9 1195.7V1204.1M726.5 1192.4V1205.2M729.1 1192.9V1200.2M731.7 1193.2V1203.5M734.3 1195.7V1202.8M736.9 1201.7V1219.6M739.5 1194.5V1210.5M742.1 1198.8V1208.8M744.7 1196.2V1211.6M747.3 1199.2V1210.2M749.9 1197.9V1210.0M752.5 1198.1V1207.5M755.1 1189.0V1203.5M757.7 1197.9V1203.5M760.3 1192.3V1202.3M762.9 1199.9V1203.4M765.5 1200.3V1207.8M768.1 1197.0V1212.2M770.7 1198.8V1208.0M773.3 1202.5V1208.0M775.9 1205.3V1209.1M778.5 1197.2V1206.2M781.1 1198.0V1212.5M783.7 1204.8V1215.8M786.3 1196.1V1215.2M788.9 1197.2V1210.1M791.5 1205.7V1219.6M794.1 1204.8V1220.3M796.7 1207.1V1218.9M799.3 1196.9V1209.3M801.9 1196.4V1209.3M804.5 1199.4V1209.1M807.1 1204.8V1211.7M809.7 1202.2V1215.3M812.3 1202.4V1212.7M814.9 1205.3V1211.2M817.5 1204.4V1214.5M820.1 1200.7V1219.9M822.7 1203.9V1216.6M825.3 1205.9V1215.7M827.9 1206.2V1214.6M830.5 1203.5V1210.6M833.1 1203.5V1217.0M835.7 1210.1V1220.5M838.3 1210.1V1217.4M840.9 1209.0V1214.9M843.5 1207.8V1218.3M846.1 1204.8V1215.5M848.7 1200.5V1211.4M851.3 1199.3V1213.2M853.9 1202.0V1213.9M856.5 1201.1V1213.6M859.1 1199.1V1214.5M861.7 1197.3V1211.0M864.3 1195.8V1204.8M866.9 1195.7V1203.6M869.5 1194.4V1202.8M872.1 1198.3V1209.6M874.7 1197.8V1208.8M877.3 1190.2V1201.3M879.9 1189.4V1200.0M882.5 1188.9V1199.1M885.1 1192.5V1199.4M887.7 1195.9V1206.6M890.3 1197.8V1205.9M892.9 1195.1V1208.3M895.5 1196.3V1205.1M898.1 1185.2V1201.0M900.7 1178.7V1200.3M903.3 1167.5V1193.7M905.9 1167.3V1189.1M908.5 1175.8V1198.9M911.1 1185.0V1201.6M913.7 1191.3V1202.0M916.3 1195.3V1205.0M918.9 1194.3V1202.2M921.5 1192.4V1202.0M924.1 1187.2V1202.0M926.7 1187.7V1200.7M929.3 1190.5V1201.8M931.9 1187.3V1201.1M934.5 1190.8V1200.1M937.1 1190.5V1203.7M939.7 1187.0V1197.3M942.3 1186.6V1195.8M944.9 1187.9V1198.3M947.5 1192.3V1202.9M950.1 1187.8V1197.9M952.7 1191.9V1197.9M955.3 1186.4V1200.5M957.9 1180.4V1196.9M960.5 1177.9V1187.7M963.1 1182.9V1203.1M965.7 1189.7V1209.4M968.3 1191.4V1206.9M970.9 1192.3V1202.4M973.5 1193.1V1202.4M976.1 1191.5V1199.9M978.7 1191.5V1202.2M981.3 1193.2V1200.0M983.9 1192.0V1203.5M986.5 1188.7V1200.7M989.1 1192.4V1201.5M991.7 1185.3V1201.5M994.3 1183.3V1199.6M996.9 1183.5V1193.8M999.5 1179.9V1199.6M1002.1 1184.1V1202.1M1004.7 1190.5V1204.0M1007.3 1192.8V1206.0M1009.9 1190.7V1204.2M1012.5 1193.2V1207.0M1015.1 1193.7V1209.6M1017.7 1189.3V1208.4M1020.3 1185.6V1207.4M1022.9 1185.4V1196.9M1025.5 1195.0V1204.9M1028.1 1194.3V1207.7M1030.7 1197.3V1208.0M1033.3 1194.9V1203.8M1035.9 1197.3V1204.1M1038.5 1195.6V1210.4M1041.1 1197.9V1205.2M1043.7 1193.5V1205.2M1046.3 1193.4V1205.2M1048.9 1189.9V1206.3M1051.5 1185.8V1199.4M1054.1 1188.0V1202.2M1056.7 1193.7V1203.4M1059.3 1194.2V1206.6M1061.9 1195.5V1203.4M1064.5 1194.6V1203.9M1067.1 1196.9V1202.6M1069.7 1193.3V1207.3M1072.3 1194.1V1203.8M1074.9 1182.9V1201.6M1077.5 1188.5V1203.2M1080.1 1196.0V1204.1M1082.7 1190.9V1201.4M1085.3 1186.9V1202.0M1087.9 1193.4V1202.9M1090.5 1194.1V1200.0M1093.1 1197.8V1206.2M1095.7 1192.5V1206.3M1098.3 1192.4V1203.8M1100.9 1195.2V1206.6M1103.5 1192.3V1203.3M1106.1 1195.5V1202.3M1108.7 1193.2V1206.2M1111.3 1190.4V1201.8M1113.9 1192.4V1204.0M1116.5 1186.1V1203.1M1119.1 1181.4V1196.8M1121.7 1187.1V1196.1M1124.3 1189.1V1199.0M1126.9 1193.5V1202.9M1129.5 1193.0V1200.4M1132.1 1190.3V1197.8M1134.7 1188.6V1201.4M1137.3 1194.3V1201.2M1139.9 1196.8V1200.3M1142.5 1196.3V1204.7M1145.1 1193.5V1205.2M1147.7 1189.9V1203.5M1150.3 1190.5V1201.8M1152.9 1189.3V1204.3M1155.5 1189.1V1202.9M1158.1 1194.0V1203.5M1160.7 1188.4V1200.5M1163.3 1192.0V1202.9M1165.9 1198.0V1205.4M1168.5 1194.2V1204.6M1171.1 1193.3V1202.7M1173.7 1190.1V1201.1M1176.3 1188.7V1205.4M1178.9 1186.2V1196.7M1181.5 1182.2V1194.2M1184.1 1177.8V1196.8M1186.7 1173.5V1195.5M1189.3 1171.0V1185.0M1191.9 1166.0V1182.8M1194.5 1161.7V1178.2M1197.1 1159.3V1173.0M1199.7 1157.6V1172.4M1202.3 1160.4V1172.7M1204.9 1162.5V1173.3M1207.5 1166.5V1178.4M1210.1 1165.2V1177.0M1212.7 1166.6V1179.5M1215.3 1168.1V1178.9M1217.9 1171.7V1183.2M1220.5 1171.1V1179.9M1223.1 1171.7V1186.0M1225.7 1168.9V1181.9M1228.3 1171.1V1183.4M1230.9 1178.1V1187.3M1233.5 1184.9V1193.0M1236.1 1184.7V1192.1M1238.7 1183.0V1186.8M1241.3 1180.8V1189.5M1243.9 1188.5V1196.9M1246.5 1180.1V1197.3M1249.1 1182.5V1192.9M1251.7 1179.5V1191.1M1254.3 1177.4V1191.9M1256.9 1168.9V1182.8M1259.5 1165.7V1180.9M1262.1 1166.5V1185.4M1264.7 1168.8V1177.7M1267.3 1168.9V1175.8M1269.9 1168.6V1179.6M1272.5 1162.7V1177.3M1275.1 1167.5V1178.8M1277.7 1170.6V1180.9M1280.3 1166.9V1185.2M1282.9 1168.9V1179.7M1285.5 1167.5V1175.4M1288.1 1169.4V1174.1M1290.7 1166.9V1178.2M1293.3 1166.4V1174.5M1295.9 1167.8V1176.2M1298.5 1171.8V1182.6M1301.1 1166.4V1178.6M1303.7 1166.6V1180.4M1306.3 1168.8V1178.2M1308.9 1167.6V1175.7M1311.5 1166.2V1175.4M1314.1 1171.4V1179.4M1316.7 1165.1V1178.9M1319.3 1165.1V1177.8M1321.9 1167.8V1185.6M1324.5 1172.2V1183.2M1327.1 1170.8V1181.8M1329.7 1174.6V1180.2M1342.3 1013.1V1030.0M1344.9 1011.0V1026.5M1347.5 1011.1V1024.4M1350.1 1008.8V1020.9M1352.7 1006.7V1019.3M1355.3 1006.1V1018.4M1357.9 1006.4V1017.0M1360.5 1004.4V1015.1M1363.1 1002.8V1013.9M1365.7 1000.6V1010.8M1368.3 999.3V1010.6M1370.9 998.0V1006.5M1373.5 996.7V1003.6M1376.1 997.0V1003.5M1378.7 994.2V1001.5M1381.3 992.2V999.0M1383.9 990.7V998.7M1386.5 989.7V999.3M1389.1 991.4V1000.6M1391.7 992.0V1000.6M1394.3 991.4V999.9M1396.9 989.8V997.0M1399.5 988.9V997.1M1402.1 986.4V994.7M1404.7 986.3V995.1M1407.3 984.7V992.4M1409.9 983.2V992.0M1412.5 984.4V994.1M1415.1 986.0V994.4M1417.7 983.2V993.0M1420.3 980.4V990.4M1422.9 978.4V988.1M1425.5 979.7V987.9M1428.1 980.8V991.6M1430.7 982.8V990.5M1433.3 979.3V989.7M1435.9 982.7V990.6M1438.5 980.2V989.3M1441.1 979.9V989.1M1443.7 978.0V986.5M1446.3 975.8V986.6M1448.9 977.8V986.7M1451.5 979.1V988.9M1454.1 978.2V986.2M1456.7 976.6V987.8M1459.3 979.7V990.2M1461.9 977.9V990.0M1464.5 976.8V989.9M1467.1 980.1V991.3M1469.7 979.4V989.5M1472.3 976.0V986.7M1474.9 975.6V983.9M1477.5 976.2V986.6M1480.1 976.8V987.8M1482.7 977.5V988.5M1485.3 977.0V986.0M1487.9 976.2V985.6M1490.5 977.1V986.8M1493.1 977.0V986.4M1495.7 977.0V987.4M1498.3 975.2V986.9M1500.9 975.1V985.0M1503.5 975.9V984.6M1506.1 975.4V985.3M1508.7 972.3V984.9M1511.3 971.5V982.6M1513.9 972.6V984.1M1516.5 972.4V982.5M1519.1 972.7V981.9M1521.7 972.6V982.5M1524.3 972.4V983.9M1526.9 976.8V986.4M1529.5 974.7V984.0M1532.1 975.2V984.5M1534.7 974.8V982.5M1537.3 973.4V985.5M1539.9 975.5V984.4M1542.5 973.3V983.8M1545.1 972.0V985.6M1547.7 976.3V986.2M1550.3 977.0V985.8M1552.9 975.8V986.7M1555.5 975.7V986.5M1558.1 974.4V983.3M1560.7 973.0V983.8M1563.3 975.4V985.6M1565.9 975.7V985.7M1568.5 970.8V984.7M1571.1 970.9V982.6M1573.7 969.6V980.2M1576.3 969.2V982.7M1578.9 971.8V981.0M1581.5 971.9V982.4M1584.1 972.1V985.3M1586.7 973.6V984.1M1589.3 971.3V980.7M1591.9 973.6V983.6M1594.5 972.2V981.4M1597.1 969.4V981.2M1599.7 972.1V984.8M1602.3 972.2V983.0M1604.9 971.4V983.9M1607.5 970.4V983.2M1610.1 971.4V985.2M1612.7 971.4V981.7M1615.3 973.5V982.6M1617.9 969.0V980.5M1620.5 970.3V983.7M1623.1 971.7V985.8M1625.7 972.1V985.0M1628.3 971.2V983.2M1630.9 968.8V982.2M1633.5 970.8V982.2M1636.1 970.8V983.1M1638.7 969.0V982.4M1641.3 971.4V983.5M1643.9 970.8V981.5M1646.5 971.1V981.9M1649.1 972.5V984.3M1651.7 971.0V982.1M1654.3 969.4V983.4M1656.9 969.1V981.5M1659.5 971.1V982.8M1662.1 971.8V983.4M1664.7 972.6V985.5M1667.3 972.2V986.8M1669.9 978.5V995.7M1672.5 987.1V997.6M1675.1 987.2V989.9M1690.3 919.8V963.5M1692.9 921.2V934.0M1695.5 920.5V935.4M1698.1 919.5V936.7M1700.7 919.0V933.0M1703.3 916.9V930.6M1705.9 916.1V934.4M1708.5 916.2V932.0M1711.1 914.1V927.7M1713.7 913.1V928.0M1716.3 913.7V928.9M1718.9 915.9V931.9M1721.5 918.7V932.0M1724.1 921.5V934.7M1726.7 916.3V931.8M1729.3 917.5V931.1M1731.9 918.5V931.3M1734.5 917.6V932.9M1737.1 915.4V928.4M1739.7 912.7V929.4M1742.3 913.1V929.7M1744.9 914.7V930.2M1747.5 914.8V925.5M1750.1 912.9V926.6M1752.7 914.3V927.4M1755.3 912.8V926.8M1757.9 911.5V926.4M1760.5 915.4V929.0M1763.1 915.6V929.8M1765.7 915.9V932.2M1768.3 915.4V931.8M1770.9 910.9V931.8M1773.5 915.2V930.3M1776.1 914.9V930.5M1778.7 911.9V930.4M1781.3 912.2V925.4M1783.9 914.7V928.2M1786.5 916.5V931.2M1789.1 916.5V933.4M1791.7 915.4V933.2M1794.3 917.5V930.6M1796.9 916.5V929.9M1799.5 914.7V931.1M1802.1 913.9V928.9M1804.7 914.6V929.6M1807.3 917.1V930.9M1809.9 915.6V930.5M1812.5 919.3V932.6M1815.1 915.6V935.3M1817.7 915.9V934.2M1820.3 914.8V932.5M1822.9 918.6V934.9M1825.5 917.3V935.4M1828.1 917.7V934.3M1830.7 918.4V935.5M1833.3 919.9V938.9M1835.9 920.1V936.9M1838.5 915.5V934.9M1841.1 914.2V933.7M1843.7 914.9V933.8M1846.3 916.0V934.9M1848.9 919.2V939.7M1851.5 917.5V938.3M1854.1 920.1V938.3M1856.7 921.6V939.1M1859.3 918.1V937.4M1861.9 917.5V934.7M1864.5 920.1V934.4M1867.1 918.4V939.4M1869.7 917.4V939.2M1872.3 916.6V939.6M1874.9 921.5V939.5M1877.5 917.4V940.4M1880.1 917.9V937.3M1882.7 916.4V938.1M1885.3 921.6V941.6M1887.9 920.9V942.0M1890.5 923.6V939.6M1893.1 920.4V939.0M1895.7 923.7V940.0M1898.3 918.7V937.6M1900.9 918.6V942.4M1903.5 921.6V943.5M1906.1 924.7V946.5M1908.7 928.1V948.2M1911.3 930.6V955.1M1913.9 943.3V952.4M1927.3 884.5V920.8M1929.9 878.2V903.9M1932.5 879.3V904.4M1935.1 878.4V907.7M1937.7 882.1V905.7M1940.3 881.6V909.1M1942.9 881.1V903.9M1945.5 881.1V902.6M1948.1 878.6V903.1M1950.7 881.3V908.1M1953.3 885.6V909.8M1955.9 886.2V905.9M1958.5 885.6V909.5M1961.1 886.2V914.8M1963.7 888.8V913.3M1966.3 886.5V909.2M1968.9 881.7V911.4M1971.5 888.4V915.6M1974.1 890.6V916.4M1976.7 886.2V915.7M1979.3 887.7V912.1M1981.9 886.5V910.3M1984.5 885.7V910.2M1987.1 885.5V914.5M1989.7 887.9V911.6M1992.3 887.7V909.6M1994.9 883.5V910.3M1997.5 889.9V909.9M2000.1 883.5V910.9M2002.7 887.3V913.3M2005.3 890.7V919.1M2007.9 885.4V912.6M2010.5 891.4V918.9M2013.1 891.1V917.1M2015.7 897.4V919.8M2018.3 895.7V918.7M2020.9 898.5V919.2M2023.5 894.6V913.1M2026.1 895.0V919.6M2028.7 891.9V914.7M2031.3 892.1V915.5M2033.9 900.6V921.7M2036.5 895.8V920.2M2039.1 896.6V920.8M2041.7 897.2V916.5M2044.3 898.4V915.0M2046.9 894.3V918.0M2049.5 904.2V922.1M2052.1 901.6V924.3M2054.7 901.6V922.9M2057.3 903.0V926.2M2059.9 904.6V926.0M2062.5 904.5V923.7M2065.1 905.4V925.7M2067.7 902.1V920.1M2070.3 906.5V920.9M2072.9 903.6V920.8M2075.5 904.8V919.0M2078.1 907.2V923.4M2080.7 906.5V920.8M2083.3 905.0V921.4M2085.9 904.1V927.4M2088.5 915.6V938.1" stroke="#000000" stroke-width="2.6" fill="none"/></g>
<path d="M1330.0 1176.0L1332.0 1200.0L1340.0 1027.0" stroke="#303030" stroke-width="2.2" fill="none" stroke-linejoin="round" opacity="0.75"/>
<path d="M1674.0 990.0L1676.0 995.0L1682.0 1177.0L1684.0 1177.0L1689.0 940.0L1690.0 928.0" stroke="#303030" stroke-width="2.2" fill="none" stroke-linejoin="round" opacity="0.75"/>
<path d="M1913.0 950.0L1918.0 1185.0L1920.0 1185.0L1926.0 910.0L1927.2 893.0" stroke="#303030" stroke-width="2.2" fill="none" stroke-linejoin="round" opacity="0.75"/>
<path d="M2089.5 935.0L2091.0 890.0" stroke="#303030" stroke-width="2.2" fill="none" stroke-linejoin="round" opacity="0.75"/>
<path d="M739 1080L739.8 1143L740.6 1080" stroke="#5a5aff" stroke-width="1.8" fill="none" opacity="0.6"/>
<path d="M867 1070L867.8 998L868.6 1070" stroke="#5a5aff" stroke-width="1.8" fill="none" opacity="0.6"/>
<path d="M900 1075L900.8 1129L901.6 1075" stroke="#5a5aff" stroke-width="1.8" fill="none" opacity="0.6"/>
<path d="M957 1045L957.8 979L958.6 1045" stroke="#5a5aff" stroke-width="1.8" fill="none" opacity="0.6"/>
<path d="M997 1045L997.8 983L998.6 1045" stroke="#5a5aff" stroke-width="1.8" fill="none" opacity="0.6"/>
<path d="M1201 1000L1201.8 972L1202.6 1000" stroke="#5a5aff" stroke-width="1.8" fill="none" opacity="0.6"/>
<path d="M1258 1000L1258.8 964L1259.6 1000" stroke="#5a5aff" stroke-width="1.8" fill="none" opacity="0.6"/>
<path d="M1110 1040L1110.8 1005L1111.6 1040" stroke="#5a5aff" stroke-width="1.8" fill="none" opacity="0.6"/>
<path d="M908 1036L908.8 1008L909.6 1036" stroke="#5a5aff" stroke-width="1.8" fill="none" opacity="0.6"/>
<path d="M1190 1000L1190.8 975L1191.6 1000" stroke="#5a5aff" stroke-width="1.8" fill="none" opacity="0.6"/>
<path d="M905 1150L905.8 1127L906.6 1150" stroke="#ff2020" stroke-width="1.8" fill="none" opacity="0.6"/>
<path d="M997 1150L997.8 1127L998.6 1150" stroke="#ff2020" stroke-width="1.8" fill="none" opacity="0.6"/>
<path d="M1198 1112L1198.8 1090L1199.6 1112" stroke="#ff2020" stroke-width="1.8" fill="none" opacity="0.6"/>
<path d="M1257 1118L1257.8 1099L1258.6 1118" stroke="#ff2020" stroke-width="1.8" fill="none" opacity="0.6"/>
<path d="M652.0 1254.0L656.0 1247.0L659.0 1232.0L662.0 1200.0L665.0 1155.0L668.0 1115.0L671.0 1095.0" stroke="#1010ff" stroke-width="3.2" fill="none" stroke-linejoin="round" opacity="0.9"/>
<path d="M517.0 1254.4L520.0 1240.0L522.0 1216.0L524.0 1235.0L526.0 1252.0L528.0 1270.0L529.5 1284.0L531.0 1262.0L534.0 1254.4" stroke="#606060" stroke-width="2.0" fill="none" stroke-linejoin="round" opacity="0.8"/>
<path d="M519.0 1254.4L521.0 1245.0L523.0 1236.0L525.0 1248.0L527.0 1255.0L532.0 1256.0L544.0 1256.0L546.0 1264.0L548.0 1272.0L550.0 1262.0L553.0 1255.0" stroke="#ff4040" stroke-width="2.0" fill="none" stroke-linejoin="round" opacity="0.8"/>
<path d="M2119.0 1254.4L2122.0 1248.0L2125.0 1240.0L2128.0 1250.0L2131.0 1254.4" stroke="#ff3030" stroke-width="2.2" fill="none" stroke-linejoin="round" opacity="1"/>
<path d="M2134.0 1254.4L2137.0 1268.0L2139.0 1290.0L2141.0 1272.0L2144.0 1254.4" stroke="#707070" stroke-width="2.2" fill="none" stroke-linejoin="round" opacity="1"/>
<path d="M2172.0 1254.4L2175.0 1240.0L2178.0 1220.0L2180.0 1240.0L2183.0 1254.4" stroke="#404040" stroke-width="2.4" fill="none" stroke-linejoin="round" opacity="1"/>
<text x="1338" y="1386" text-anchor="middle" class="ttl tx">Time (s)</text>
<text transform="translate(124.6 475) rotate(-90)" text-anchor="middle" class="ttl">Cutting force (N)</text>
<text x="347" y="234.3" fill="#000" class="lgF">F</text>
<text x="386.8" y="234.8" fill="#000" style="color:#000" class="lgS">X</text>
<text x="425" y="234.3" fill="#000" style="color:#000" class="lgN">[N]</text>
<text x="345.5" y="456.6" fill="#ff0000" class="lgF">F</text>
<text x="386.8" y="452.8" fill="#ff0000" style="color:#ff0000" class="lgS">Y</text>
<text x="425" y="450.5" fill="#ff0000" style="color:#ff0000" class="lgN">[N]</text>
<text x="347" y="669.8" fill="#0000ff" class="lgF">F</text>
<text x="386.8" y="669.8" fill="#0000ff" style="color:#0000ff" class="lgS">Z</text>
<text x="425" y="668.5" fill="#0000ff" style="color:#0000ff" class="lgN">[N]</text>
<text x="1418.7" y="145" class="af">f</text>
<text transform="translate(1459.0 146.5) scale(1.17 1.04)" class="an">=</text>
<text x="1514.2" y="145" class="an">0.2 mm/r</text>
<text x="1130.1" y="321.1" class="af">f</text>
<text transform="translate(1170.0 322.6) scale(1.17 1.04)" class="an">=</text>
<text x="1226.5" y="321.1" class="an">0.15 mm/r</text>
<text x="876.4" y="644.4" class="af">f</text>
<text transform="translate(915.4 645.9) scale(1.17 1.04)" class="an">=</text>
<text x="971.9" y="644.4" class="an">0.1 mm/r</text>
<text x="630.1" y="861" class="af">f</text>
<text transform="translate(670.4 862.5) scale(1.17 1.04)" class="an">=</text>
<text x="726.9" y="861" class="an">0.05 mm/r</text>
<polygon points="1789.3,134.5 1887.4,127.2 1888.4,140.7 1924.0,121.0 1885.8,106.8 1886.8,120.2 1788.7,127.5" fill="#000"/>
<polygon points="1538.3,318.0 1638.5,308.9 1639.7,322.3 1672.0,302.3 1636.6,288.5 1637.8,301.9 1537.7,311.0" fill="#000"/>
<polygon points="1248.1,625.3 1342.8,594.0 1347.1,606.8 1374.0,580.0 1336.4,574.5 1340.6,587.4 1245.9,618.7" fill="#000"/>
<polygon points="919.3,883.2 966.2,942.5 955.6,950.9 990.0,967.0 982.2,929.8 971.7,938.2 924.7,878.8" fill="#000"/>
<rect x="21" y="22" width="7" height="1431" fill="#000"/>
<rect x="21" y="22" width="2286" height="8" fill="#000"/>
<rect x="2299" y="22" width="8" height="1431" fill="#000"/>
<rect x="21" y="1446" width="2286" height="7" fill="#000"/>
</svg></body></html>
